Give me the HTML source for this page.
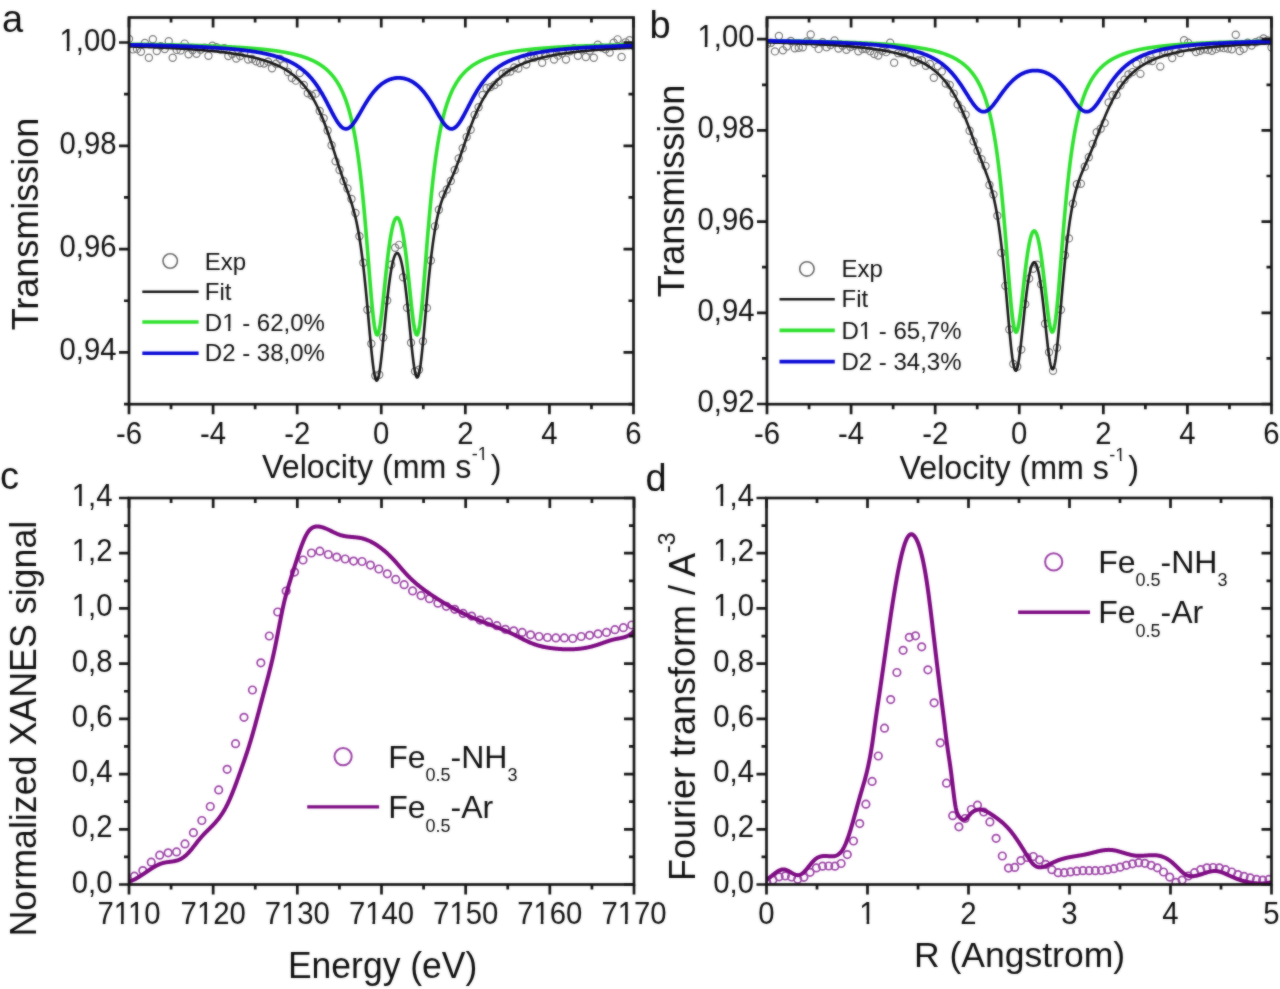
<!DOCTYPE html>
<html><head><meta charset="utf-8"><style>
html,body{margin:0;padding:0;background:#fff;width:1280px;height:989px;overflow:hidden}
svg{display:block}
</style></head><body>
<svg width="1280" height="989" viewBox="0 0 1280 989" font-family="Liberation Sans, sans-serif" fill="#0e0e0e">
<defs><filter id="soft" x="0" y="0" width="1" height="1" filterUnits="objectBoundingBox" color-interpolation-filters="sRGB"><feGaussianBlur in="SourceGraphic" stdDeviation="1" result="b"></feGaussianBlur><feComposite in="SourceGraphic" in2="b" operator="arithmetic" k1="0" k2="0.5" k3="0.5" k4="0"></feComposite></filter></defs>
<g filter="url(#soft)">
<rect width="1280" height="989" fill="#fff"></rect>
<g clip-path="url(#clip1)">
<g fill="none" stroke="#7a7a7a" stroke-width="1.2"><circle cx="129" cy="38.88" r="3.6"></circle><circle cx="132.97" cy="49.4" r="3.6"></circle><circle cx="136.94" cy="49.14" r="3.6"></circle><circle cx="140.92" cy="51.81" r="3.6"></circle><circle cx="144.89" cy="42.94" r="3.6"></circle><circle cx="148.86" cy="57.81" r="3.6"></circle><circle cx="152.83" cy="39.16" r="3.6"></circle><circle cx="156.81" cy="50.97" r="3.6"></circle><circle cx="160.78" cy="46.12" r="3.6"></circle><circle cx="164.75" cy="48.95" r="3.6"></circle><circle cx="168.72" cy="41.19" r="3.6"></circle><circle cx="172.7" cy="57.77" r="3.6"></circle><circle cx="176.67" cy="49.9" r="3.6"></circle><circle cx="180.64" cy="50.42" r="3.6"></circle><circle cx="184.61" cy="43.61" r="3.6"></circle><circle cx="188.59" cy="54.25" r="3.6"></circle><circle cx="192.56" cy="50.21" r="3.6"></circle><circle cx="196.53" cy="53.79" r="3.6"></circle><circle cx="200.5" cy="49.82" r="3.6"></circle><circle cx="204.48" cy="47.64" r="3.6"></circle><circle cx="208.45" cy="55.82" r="3.6"></circle><circle cx="212.42" cy="45.77" r="3.6"></circle><circle cx="216.39" cy="47.31" r="3.6"></circle><circle cx="220.37" cy="49.61" r="3.6"></circle><circle cx="224.34" cy="48.23" r="3.6"></circle><circle cx="228.31" cy="56.12" r="3.6"></circle><circle cx="232.28" cy="54.07" r="3.6"></circle><circle cx="236.26" cy="58.45" r="3.6"></circle><circle cx="240.23" cy="56.01" r="3.6"></circle><circle cx="244.2" cy="53.02" r="3.6"></circle><circle cx="248.17" cy="59.49" r="3.6"></circle><circle cx="252.15" cy="58.98" r="3.6"></circle><circle cx="256.12" cy="61.29" r="3.6"></circle><circle cx="260.09" cy="63.08" r="3.6"></circle><circle cx="264.06" cy="63.45" r="3.6"></circle><circle cx="268.04" cy="61.69" r="3.6"></circle><circle cx="272.01" cy="68.3" r="3.6"></circle><circle cx="275.98" cy="63.66" r="3.6"></circle><circle cx="279.95" cy="58.9" r="3.6"></circle><circle cx="283.93" cy="65.29" r="3.6"></circle><circle cx="287.9" cy="72.05" r="3.6"></circle><circle cx="291.87" cy="78.07" r="3.6"></circle><circle cx="295.84" cy="80.64" r="3.6"></circle><circle cx="299.81" cy="73.03" r="3.6"></circle><circle cx="303.79" cy="85.02" r="3.6"></circle><circle cx="307.76" cy="93.33" r="3.6"></circle><circle cx="311.73" cy="95.48" r="3.6"></circle><circle cx="315.7" cy="93.64" r="3.6"></circle><circle cx="319.68" cy="111.06" r="3.6"></circle><circle cx="323.65" cy="118.25" r="3.6"></circle><circle cx="327.62" cy="130.48" r="3.6"></circle><circle cx="331.59" cy="145.31" r="3.6"></circle><circle cx="335.57" cy="161.37" r="3.6"></circle><circle cx="339.54" cy="170.01" r="3.6"></circle><circle cx="343.51" cy="181.07" r="3.6"></circle><circle cx="347.48" cy="188.51" r="3.6"></circle><circle cx="351.46" cy="198.97" r="3.6"></circle><circle cx="355.43" cy="212.92" r="3.6"></circle><circle cx="359.4" cy="236.19" r="3.6"></circle><circle cx="363.37" cy="262.73" r="3.6"></circle><circle cx="367.35" cy="309.81" r="3.6"></circle><circle cx="371.32" cy="343.73" r="3.6"></circle><circle cx="375.29" cy="375.78" r="3.6"></circle><circle cx="379.26" cy="374.69" r="3.6"></circle><circle cx="383.24" cy="337.55" r="3.6"></circle><circle cx="387.21" cy="300.45" r="3.6"></circle><circle cx="391.18" cy="264.78" r="3.6"></circle><circle cx="395.15" cy="247.75" r="3.6"></circle><circle cx="399.13" cy="244.87" r="3.6"></circle><circle cx="403.1" cy="277.18" r="3.6"></circle><circle cx="407.07" cy="307.72" r="3.6"></circle><circle cx="411.04" cy="342.66" r="3.6"></circle><circle cx="415.02" cy="371.2" r="3.6"></circle><circle cx="418.99" cy="369.73" r="3.6"></circle><circle cx="422.96" cy="341.34" r="3.6"></circle><circle cx="426.93" cy="308.03" r="3.6"></circle><circle cx="430.91" cy="260.56" r="3.6"></circle><circle cx="434.88" cy="226.36" r="3.6"></circle><circle cx="438.85" cy="209.74" r="3.6"></circle><circle cx="442.82" cy="194.41" r="3.6"></circle><circle cx="446.8" cy="189.57" r="3.6"></circle><circle cx="450.77" cy="180.99" r="3.6"></circle><circle cx="454.74" cy="170.02" r="3.6"></circle><circle cx="458.71" cy="158.57" r="3.6"></circle><circle cx="462.69" cy="148.22" r="3.6"></circle><circle cx="466.66" cy="137.08" r="3.6"></circle><circle cx="470.63" cy="129.76" r="3.6"></circle><circle cx="474.6" cy="114.87" r="3.6"></circle><circle cx="478.57" cy="107.22" r="3.6"></circle><circle cx="482.55" cy="94.88" r="3.6"></circle><circle cx="486.52" cy="88" r="3.6"></circle><circle cx="490.49" cy="87.11" r="3.6"></circle><circle cx="494.46" cy="84.94" r="3.6"></circle><circle cx="498.44" cy="82.09" r="3.6"></circle><circle cx="502.41" cy="73.65" r="3.6"></circle><circle cx="506.38" cy="72.23" r="3.6"></circle><circle cx="510.35" cy="71.57" r="3.6"></circle><circle cx="514.33" cy="67.48" r="3.6"></circle><circle cx="518.3" cy="68.57" r="3.6"></circle><circle cx="522.27" cy="60.67" r="3.6"></circle><circle cx="526.24" cy="64.43" r="3.6"></circle><circle cx="530.22" cy="55.27" r="3.6"></circle><circle cx="534.19" cy="57.84" r="3.6"></circle><circle cx="538.16" cy="55.84" r="3.6"></circle><circle cx="542.13" cy="62.68" r="3.6"></circle><circle cx="546.11" cy="55.89" r="3.6"></circle><circle cx="550.08" cy="52.41" r="3.6"></circle><circle cx="554.05" cy="59.53" r="3.6"></circle><circle cx="558.02" cy="55.64" r="3.6"></circle><circle cx="562" cy="53.62" r="3.6"></circle><circle cx="565.97" cy="59.58" r="3.6"></circle><circle cx="569.94" cy="51.19" r="3.6"></circle><circle cx="573.91" cy="48.23" r="3.6"></circle><circle cx="577.89" cy="55.7" r="3.6"></circle><circle cx="581.86" cy="49.65" r="3.6"></circle><circle cx="585.83" cy="56.98" r="3.6"></circle><circle cx="589.8" cy="50.69" r="3.6"></circle><circle cx="593.78" cy="57.68" r="3.6"></circle><circle cx="597.75" cy="44.63" r="3.6"></circle><circle cx="601.72" cy="47.64" r="3.6"></circle><circle cx="605.69" cy="49.37" r="3.6"></circle><circle cx="609.67" cy="52.6" r="3.6"></circle><circle cx="613.64" cy="42.82" r="3.6"></circle><circle cx="617.61" cy="39.36" r="3.6"></circle><circle cx="621.58" cy="56.92" r="3.6"></circle><circle cx="625.56" cy="42.33" r="3.6"></circle><circle cx="629.53" cy="40.31" r="3.6"></circle><circle cx="633.5" cy="46.12" r="3.6"></circle></g>
<path d="M129 46.43 L129.72 46.46 L130.44 46.48 L131.17 46.5 L131.89 46.52 L132.61 46.55 L133.33 46.57 L134.05 46.59 L134.77 46.61 L135.5 46.64 L136.22 46.66 L136.94 46.69 L137.66 46.71 L138.38 46.73 L139.1 46.76 L139.83 46.78 L140.55 46.81 L141.27 46.83 L141.99 46.86 L142.71 46.88 L143.43 46.91 L144.16 46.94 L144.88 46.96 L145.6 46.99 L146.32 47.02 L147.04 47.04 L147.77 47.07 L148.49 47.1 L149.21 47.13 L149.93 47.15 L150.65 47.18 L151.37 47.21 L152.1 47.24 L152.82 47.27 L153.54 47.3 L154.26 47.33 L154.98 47.36 L155.7 47.39 L156.43 47.42 L157.15 47.45 L157.87 47.48 L158.59 47.51 L159.31 47.54 L160.04 47.57 L160.76 47.61 L161.48 47.64 L162.2 47.67 L162.92 47.71 L163.64 47.74 L164.37 47.77 L165.09 47.81 L165.81 47.84 L166.53 47.88 L167.25 47.91 L167.97 47.95 L168.7 47.98 L169.42 48.02 L170.14 48.06 L170.86 48.09 L171.58 48.13 L172.3 48.17 L173.03 48.21 L173.75 48.25 L174.47 48.28 L175.19 48.32 L175.91 48.36 L176.64 48.4 L177.36 48.44 L178.08 48.49 L178.8 48.53 L179.52 48.57 L180.24 48.61 L180.97 48.65 L181.69 48.7 L182.41 48.74 L183.13 48.79 L183.85 48.83 L184.57 48.88 L185.3 48.92 L186.02 48.97 L186.74 49.02 L187.46 49.06 L188.18 49.11 L188.9 49.16 L189.63 49.21 L190.35 49.26 L191.07 49.31 L191.79 49.36 L192.51 49.41 L193.24 49.46 L193.96 49.51 L194.68 49.57 L195.4 49.62 L196.12 49.67 L196.84 49.73 L197.57 49.78 L198.29 49.84 L199.01 49.9 L199.73 49.95 L200.45 50.01 L201.17 50.07 L201.9 50.13 L202.62 50.19 L203.34 50.25 L204.06 50.32 L204.78 50.38 L205.51 50.44 L206.23 50.51 L206.95 50.57 L207.67 50.64 L208.39 50.7 L209.11 50.77 L209.84 50.84 L210.56 50.91 L211.28 50.98 L212 51.05 L212.72 51.12 L213.44 51.19 L214.17 51.27 L214.89 51.34 L215.61 51.42 L216.33 51.5 L217.05 51.57 L217.77 51.65 L218.5 51.73 L219.22 51.81 L219.94 51.9 L220.66 51.98 L221.38 52.06 L222.11 52.15 L222.83 52.24 L223.55 52.32 L224.27 52.41 L224.99 52.5 L225.71 52.6 L226.44 52.69 L227.16 52.78 L227.88 52.88 L228.6 52.98 L229.32 53.08 L230.04 53.18 L230.77 53.28 L231.49 53.38 L232.21 53.48 L232.93 53.59 L233.65 53.7 L234.37 53.81 L235.1 53.92 L235.82 54.03 L236.54 54.15 L237.26 54.26 L237.98 54.38 L238.71 54.5 L239.43 54.62 L240.15 54.75 L240.87 54.87 L241.59 55 L242.31 55.13 L243.04 55.26 L243.76 55.4 L244.48 55.54 L245.2 55.67 L245.92 55.82 L246.64 55.96 L247.37 56.11 L248.09 56.25 L248.81 56.41 L249.53 56.56 L250.25 56.72 L250.97 56.88 L251.7 57.04 L252.42 57.2 L253.14 57.37 L253.86 57.54 L254.58 57.71 L255.31 57.89 L256.03 58.07 L256.75 58.26 L257.47 58.44 L258.19 58.63 L258.91 58.83 L259.64 59.03 L260.36 59.23 L261.08 59.43 L261.8 59.64 L262.52 59.86 L263.24 60.07 L263.97 60.3 L264.69 60.52 L265.41 60.75 L266.13 60.99 L266.85 61.23 L267.58 61.48 L268.3 61.73 L269.02 61.98 L269.74 62.24 L270.46 62.51 L271.18 62.78 L271.91 63.06 L272.63 63.35 L273.35 63.64 L274.07 63.93 L274.79 64.24 L275.51 64.55 L276.24 64.87 L276.96 65.19 L277.68 65.52 L278.4 65.86 L279.12 66.21 L279.84 66.56 L280.57 66.93 L281.29 67.3 L282.01 67.68 L282.73 68.07 L283.45 68.47 L284.18 68.88 L284.9 69.3 L285.62 69.73 L286.34 70.17 L287.06 70.62 L287.78 71.09 L288.51 71.56 L289.23 72.05 L289.95 72.55 L290.67 73.06 L291.39 73.59 L292.11 74.13 L292.84 74.69 L293.56 75.26 L294.28 75.84 L295 76.44 L295.72 77.06 L296.44 77.69 L297.17 78.35 L297.89 79.02 L298.61 79.7 L299.33 80.41 L300.05 81.14 L300.78 81.89 L301.5 82.66 L302.22 83.46 L302.94 84.27 L303.66 85.11 L304.38 85.97 L305.11 86.86 L305.83 87.78 L306.55 88.72 L307.27 89.69 L307.99 90.69 L308.71 91.72 L309.44 92.78 L310.16 93.87 L310.88 94.99 L311.6 96.15 L312.32 97.34 L313.05 98.57 L313.77 99.83 L314.49 101.13 L315.21 102.46 L315.93 103.84 L316.65 105.25 L317.38 106.71 L318.1 108.2 L318.82 109.74 L319.54 111.32 L320.26 112.94 L320.98 114.6 L321.71 116.31 L322.43 118.06 L323.15 119.85 L323.87 121.68 L324.59 123.56 L325.31 125.48 L326.04 127.44 L326.76 129.43 L327.48 131.47 L328.2 133.54 L328.92 135.64 L329.65 137.77 L330.37 139.94 L331.09 142.12 L331.81 144.34 L332.53 146.57 L333.25 148.81 L333.98 151.07 L334.7 153.33 L335.42 155.6 L336.14 157.86 L336.86 160.12 L337.58 162.37 L338.31 164.61 L339.03 166.83 L339.75 169.03 L340.47 171.2 L341.19 173.36 L341.91 175.48 L342.64 177.59 L343.36 179.66 L344.08 181.72 L344.8 183.75 L345.52 185.77 L346.25 187.79 L346.97 189.79 L347.69 191.81 L348.41 193.84 L349.13 195.9 L349.85 198 L350.58 200.15 L351.3 202.37 L352.02 204.67 L352.74 207.08 L353.46 209.61 L354.18 212.27 L354.91 215.1 L355.63 218.1 L356.35 221.3 L357.07 224.72 L357.79 228.38 L358.52 232.31 L359.24 236.51 L359.96 241.02 L360.68 245.84 L361.4 250.99 L362.12 256.49 L362.85 262.34 L363.57 268.54 L364.29 275.1 L365.01 281.99 L365.73 289.21 L366.45 296.7 L367.18 304.44 L367.9 312.36 L368.62 320.38 L369.34 328.42 L370.06 336.35 L370.78 344.07 L371.51 351.42 L372.23 358.25 L372.95 364.43 L373.67 369.79 L374.39 374.2 L375.12 377.53 L375.84 379.69 L376.56 380.63 L377.28 380.32 L378 378.78 L378.72 376.05 L379.45 372.25 L380.17 367.47 L380.89 361.87 L381.61 355.6 L382.33 348.81 L383.05 341.66 L383.78 334.3 L384.5 326.86 L385.22 319.47 L385.94 312.22 L386.66 305.2 L387.38 298.49 L388.11 292.14 L388.83 286.21 L389.55 280.71 L390.27 275.68 L390.99 271.14 L391.72 267.1 L392.44 263.56 L393.16 260.53 L393.88 258.01 L394.6 256 L395.32 254.5 L396.05 253.52 L396.77 253.04 L397.49 253.07 L398.21 253.61 L398.93 254.66 L399.65 256.22 L400.38 258.29 L401.1 260.87 L401.82 263.96 L402.54 267.56 L403.26 271.66 L403.98 276.26 L404.71 281.33 L405.43 286.86 L406.15 292.83 L406.87 299.19 L407.59 305.89 L408.32 312.88 L409.04 320.07 L409.76 327.38 L410.48 334.69 L411.2 341.89 L411.92 348.82 L412.65 355.34 L413.37 361.3 L414.09 366.53 L414.81 370.89 L415.53 374.24 L416.25 376.47 L416.98 377.5 L417.7 377.28 L418.42 375.82 L419.14 373.14 L419.86 369.32 L420.59 364.46 L421.31 358.68 L422.03 352.14 L422.75 344.99 L423.47 337.37 L424.19 329.43 L424.92 321.31 L425.64 313.14 L426.36 305 L427.08 297.01 L427.8 289.21 L428.52 281.68 L429.25 274.46 L429.97 267.56 L430.69 261.03 L431.41 254.85 L432.13 249.05 L432.85 243.6 L433.58 238.52 L434.3 233.78 L435.02 229.37 L435.74 225.27 L436.46 221.48 L437.19 217.96 L437.91 214.71 L438.63 211.69 L439.35 208.9 L440.07 206.31 L440.79 203.9 L441.52 201.66 L442.24 199.56 L442.96 197.59 L443.68 195.72 L444.4 193.95 L445.12 192.26 L445.85 190.62 L446.57 189.03 L447.29 187.48 L448.01 185.94 L448.73 184.41 L449.45 182.88 L450.18 181.34 L450.9 179.77 L451.62 178.18 L452.34 176.56 L453.06 174.9 L453.79 173.2 L454.51 171.46 L455.23 169.67 L455.95 167.84 L456.67 165.97 L457.39 164.06 L458.12 162.11 L458.84 160.13 L459.56 158.11 L460.28 156.07 L461 154.01 L461.72 151.93 L462.45 149.84 L463.17 147.74 L463.89 145.64 L464.61 143.54 L465.33 141.44 L466.06 139.36 L466.78 137.29 L467.5 135.24 L468.22 133.21 L468.94 131.21 L469.66 129.24 L470.39 127.29 L471.11 125.38 L471.83 123.5 L472.55 121.66 L473.27 119.85 L473.99 118.08 L474.72 116.36 L475.44 114.67 L476.16 113.02 L476.88 111.4 L477.6 109.83 L478.32 108.3 L479.05 106.81 L479.77 105.36 L480.49 103.95 L481.21 102.57 L481.93 101.24 L482.66 99.94 L483.38 98.67 L484.1 97.44 L484.82 96.25 L485.54 95.09 L486.26 93.96 L486.99 92.87 L487.71 91.8 L488.43 90.77 L489.15 89.76 L489.87 88.79 L490.59 87.84 L491.32 86.92 L492.04 86.03 L492.76 85.16 L493.48 84.31 L494.2 83.49 L494.92 82.69 L495.65 81.92 L496.37 81.16 L497.09 80.43 L497.81 79.72 L498.53 79.03 L499.26 78.35 L499.98 77.7 L500.7 77.06 L501.42 76.44 L502.14 75.83 L502.86 75.25 L503.59 74.67 L504.31 74.12 L505.03 73.57 L505.75 73.04 L506.47 72.53 L507.19 72.03 L507.92 71.54 L508.64 71.06 L509.36 70.59 L510.08 70.14 L510.8 69.7 L511.53 69.27 L512.25 68.84 L512.97 68.43 L513.69 68.03 L514.41 67.64 L515.13 67.26 L515.86 66.89 L516.58 66.52 L517.3 66.16 L518.02 65.82 L518.74 65.48 L519.46 65.14 L520.19 64.82 L520.91 64.5 L521.63 64.19 L522.35 63.88 L523.07 63.59 L523.79 63.3 L524.52 63.01 L525.24 62.73 L525.96 62.46 L526.68 62.19 L527.4 61.93 L528.13 61.68 L528.85 61.42 L529.57 61.18 L530.29 60.94 L531.01 60.7 L531.73 60.47 L532.46 60.24 L533.18 60.02 L533.9 59.8 L534.62 59.59 L535.34 59.38 L536.06 59.18 L536.79 58.97 L537.51 58.78 L538.23 58.58 L538.95 58.39 L539.67 58.2 L540.39 58.02 L541.12 57.84 L541.84 57.66 L542.56 57.49 L543.28 57.32 L544 57.15 L544.73 56.99 L545.45 56.83 L546.17 56.67 L546.89 56.51 L547.61 56.36 L548.33 56.21 L549.06 56.06 L549.78 55.91 L550.5 55.77 L551.22 55.63 L551.94 55.49 L552.66 55.35 L553.39 55.22 L554.11 55.09 L554.83 54.96 L555.55 54.83 L556.27 54.7 L556.99 54.58 L557.72 54.46 L558.44 54.34 L559.16 54.22 L559.88 54.1 L560.6 53.99 L561.33 53.88 L562.05 53.77 L562.77 53.66 L563.49 53.55 L564.21 53.44 L564.93 53.34 L565.66 53.24 L566.38 53.14 L567.1 53.04 L567.82 52.94 L568.54 52.84 L569.26 52.74 L569.99 52.65 L570.71 52.56 L571.43 52.47 L572.15 52.38 L572.87 52.29 L573.6 52.2 L574.32 52.11 L575.04 52.03 L575.76 51.94 L576.48 51.86 L577.2 51.78 L577.93 51.7 L578.65 51.62 L579.37 51.54 L580.09 51.46 L580.81 51.38 L581.53 51.31 L582.26 51.23 L582.98 51.16 L583.7 51.09 L584.42 51.02 L585.14 50.95 L585.86 50.88 L586.59 50.81 L587.31 50.74 L588.03 50.67 L588.75 50.61 L589.47 50.54 L590.2 50.48 L590.92 50.41 L591.64 50.35 L592.36 50.29 L593.08 50.22 L593.8 50.16 L594.53 50.1 L595.25 50.04 L595.97 49.99 L596.69 49.93 L597.41 49.87 L598.13 49.81 L598.86 49.76 L599.58 49.7 L600.3 49.65 L601.02 49.59 L601.74 49.54 L602.46 49.49 L603.19 49.43 L603.91 49.38 L604.63 49.33 L605.35 49.28 L606.07 49.23 L606.8 49.18 L607.52 49.13 L608.24 49.09 L608.96 49.04 L609.68 48.99 L610.4 48.94 L611.13 48.9 L611.85 48.85 L612.57 48.81 L613.29 48.76 L614.01 48.72 L614.73 48.68 L615.46 48.63 L616.18 48.59 L616.9 48.55 L617.62 48.51 L618.34 48.46 L619.07 48.42 L619.79 48.38 L620.51 48.34 L621.23 48.3 L621.95 48.26 L622.67 48.22 L623.4 48.19 L624.12 48.15 L624.84 48.11 L625.56 48.07 L626.28 48.04 L627 48 L627.73 47.96 L628.45 47.93 L629.17 47.89 L629.89 47.86 L630.61 47.82 L631.33 47.79 L632.06 47.75 L632.78 47.72 L633.5 47.69" fill="none" stroke="#151515" stroke-width="2.6" stroke-linejoin="round" stroke-linecap="round"></path>
<path d="M129 44.17 L129.72 44.18 L130.44 44.19 L131.17 44.2 L131.89 44.21 L132.61 44.21 L133.33 44.22 L134.05 44.23 L134.77 44.24 L135.5 44.25 L136.22 44.26 L136.94 44.27 L137.66 44.28 L138.38 44.29 L139.1 44.3 L139.83 44.31 L140.55 44.32 L141.27 44.33 L141.99 44.34 L142.71 44.35 L143.43 44.36 L144.16 44.38 L144.88 44.39 L145.6 44.4 L146.32 44.41 L147.04 44.42 L147.77 44.43 L148.49 44.44 L149.21 44.45 L149.93 44.46 L150.65 44.48 L151.37 44.49 L152.1 44.5 L152.82 44.51 L153.54 44.52 L154.26 44.54 L154.98 44.55 L155.7 44.56 L156.43 44.57 L157.15 44.58 L157.87 44.6 L158.59 44.61 L159.31 44.62 L160.04 44.64 L160.76 44.65 L161.48 44.66 L162.2 44.68 L162.92 44.69 L163.64 44.7 L164.37 44.72 L165.09 44.73 L165.81 44.74 L166.53 44.76 L167.25 44.77 L167.97 44.79 L168.7 44.8 L169.42 44.82 L170.14 44.83 L170.86 44.85 L171.58 44.86 L172.3 44.88 L173.03 44.89 L173.75 44.91 L174.47 44.92 L175.19 44.94 L175.91 44.96 L176.64 44.97 L177.36 44.99 L178.08 45 L178.8 45.02 L179.52 45.04 L180.24 45.05 L180.97 45.07 L181.69 45.09 L182.41 45.11 L183.13 45.12 L183.85 45.14 L184.57 45.16 L185.3 45.18 L186.02 45.2 L186.74 45.22 L187.46 45.23 L188.18 45.25 L188.9 45.27 L189.63 45.29 L190.35 45.31 L191.07 45.33 L191.79 45.35 L192.51 45.37 L193.24 45.39 L193.96 45.41 L194.68 45.43 L195.4 45.46 L196.12 45.48 L196.84 45.5 L197.57 45.52 L198.29 45.54 L199.01 45.57 L199.73 45.59 L200.45 45.61 L201.17 45.63 L201.9 45.66 L202.62 45.68 L203.34 45.7 L204.06 45.73 L204.78 45.75 L205.51 45.78 L206.23 45.8 L206.95 45.83 L207.67 45.85 L208.39 45.88 L209.11 45.91 L209.84 45.93 L210.56 45.96 L211.28 45.99 L212 46.01 L212.72 46.04 L213.44 46.07 L214.17 46.1 L214.89 46.13 L215.61 46.16 L216.33 46.19 L217.05 46.22 L217.77 46.25 L218.5 46.28 L219.22 46.31 L219.94 46.34 L220.66 46.37 L221.38 46.4 L222.11 46.44 L222.83 46.47 L223.55 46.5 L224.27 46.54 L224.99 46.57 L225.71 46.61 L226.44 46.64 L227.16 46.68 L227.88 46.71 L228.6 46.75 L229.32 46.79 L230.04 46.83 L230.77 46.86 L231.49 46.9 L232.21 46.94 L232.93 46.98 L233.65 47.02 L234.37 47.06 L235.1 47.1 L235.82 47.15 L236.54 47.19 L237.26 47.23 L237.98 47.27 L238.71 47.32 L239.43 47.36 L240.15 47.41 L240.87 47.46 L241.59 47.5 L242.31 47.55 L243.04 47.6 L243.76 47.65 L244.48 47.7 L245.2 47.75 L245.92 47.8 L246.64 47.85 L247.37 47.9 L248.09 47.96 L248.81 48.01 L249.53 48.07 L250.25 48.12 L250.97 48.18 L251.7 48.24 L252.42 48.3 L253.14 48.36 L253.86 48.42 L254.58 48.48 L255.31 48.54 L256.03 48.6 L256.75 48.67 L257.47 48.73 L258.19 48.8 L258.91 48.87 L259.64 48.94 L260.36 49.01 L261.08 49.08 L261.8 49.15 L262.52 49.22 L263.24 49.3 L263.97 49.37 L264.69 49.45 L265.41 49.53 L266.13 49.61 L266.85 49.69 L267.58 49.78 L268.3 49.86 L269.02 49.95 L269.74 50.03 L270.46 50.12 L271.18 50.21 L271.91 50.3 L272.63 50.4 L273.35 50.49 L274.07 50.59 L274.79 50.69 L275.51 50.79 L276.24 50.9 L276.96 51 L277.68 51.11 L278.4 51.22 L279.12 51.33 L279.84 51.44 L280.57 51.56 L281.29 51.68 L282.01 51.8 L282.73 51.92 L283.45 52.05 L284.18 52.18 L284.9 52.31 L285.62 52.44 L286.34 52.58 L287.06 52.72 L287.78 52.86 L288.51 53 L289.23 53.15 L289.95 53.3 L290.67 53.46 L291.39 53.62 L292.11 53.78 L292.84 53.95 L293.56 54.12 L294.28 54.29 L295 54.47 L295.72 54.65 L296.44 54.84 L297.17 55.03 L297.89 55.22 L298.61 55.42 L299.33 55.63 L300.05 55.84 L300.78 56.05 L301.5 56.27 L302.22 56.5 L302.94 56.73 L303.66 56.97 L304.38 57.22 L305.11 57.47 L305.83 57.72 L306.55 57.99 L307.27 58.26 L307.99 58.54 L308.71 58.83 L309.44 59.12 L310.16 59.42 L310.88 59.74 L311.6 60.06 L312.32 60.39 L313.05 60.73 L313.77 61.08 L314.49 61.44 L315.21 61.81 L315.93 62.19 L316.65 62.59 L317.38 62.99 L318.1 63.41 L318.82 63.85 L319.54 64.29 L320.26 64.76 L320.98 65.23 L321.71 65.73 L322.43 66.24 L323.15 66.77 L323.87 67.31 L324.59 67.88 L325.31 68.46 L326.04 69.07 L326.76 69.7 L327.48 70.35 L328.2 71.03 L328.92 71.73 L329.65 72.46 L330.37 73.21 L331.09 74 L331.81 74.82 L332.53 75.67 L333.25 76.56 L333.98 77.48 L334.7 78.44 L335.42 79.44 L336.14 80.49 L336.86 81.58 L337.58 82.72 L338.31 83.91 L339.03 85.16 L339.75 86.46 L340.47 87.82 L341.19 89.25 L341.91 90.75 L342.64 92.32 L343.36 93.96 L344.08 95.69 L344.8 97.51 L345.52 99.42 L346.25 101.43 L346.97 103.55 L347.69 105.77 L348.41 108.12 L349.13 110.6 L349.85 113.21 L350.58 115.98 L351.3 118.89 L352.02 121.97 L352.74 125.23 L353.46 128.68 L354.18 132.33 L354.91 136.2 L355.63 140.29 L356.35 144.62 L357.07 149.21 L357.79 154.07 L358.52 159.22 L359.24 164.66 L359.96 170.42 L360.68 176.5 L361.4 182.91 L362.12 189.66 L362.85 196.76 L363.57 204.21 L364.29 211.99 L365.01 220.09 L365.73 228.49 L366.45 237.16 L367.18 246.04 L367.9 255.08 L368.62 264.2 L369.34 273.3 L370.06 282.28 L370.78 291 L371.51 299.33 L372.23 307.11 L372.95 314.21 L373.67 320.45 L374.39 325.72 L375.12 329.88 L375.84 332.84 L376.56 334.54 L377.28 334.96 L378 334.13 L378.72 332.08 L379.45 328.92 L380.17 324.76 L380.89 319.75 L381.61 314.04 L382.33 307.79 L383.05 301.15 L383.78 294.27 L384.5 287.29 L385.22 280.32 L385.94 273.48 L386.66 266.84 L387.38 260.49 L388.11 254.47 L388.83 248.84 L389.55 243.63 L390.27 238.87 L390.99 234.57 L391.72 230.74 L392.44 227.39 L393.16 224.54 L393.88 222.17 L394.6 220.29 L395.32 218.9 L396.05 218 L396.77 217.59 L397.49 217.67 L398.21 218.23 L398.93 219.28 L399.65 220.83 L400.38 222.86 L401.1 225.38 L401.82 228.39 L402.54 231.89 L403.26 235.86 L403.98 240.31 L404.71 245.22 L405.43 250.56 L406.15 256.32 L406.87 262.45 L407.59 268.89 L408.32 275.6 L409.04 282.5 L409.76 289.48 L410.48 296.45 L411.2 303.27 L411.92 309.8 L412.65 315.9 L413.37 321.41 L414.09 326.17 L414.81 330.02 L415.53 332.85 L416.25 334.52 L416.98 334.97 L417.7 334.14 L418.42 332.04 L419.14 328.7 L419.86 324.18 L420.59 318.59 L421.31 312.06 L422.03 304.74 L422.75 296.76 L423.47 288.3 L424.19 279.48 L424.92 270.46 L425.64 261.34 L426.36 252.24 L427.08 243.24 L427.8 234.42 L428.52 225.83 L429.25 217.51 L429.97 209.51 L430.69 201.83 L431.41 194.5 L432.13 187.51 L432.85 180.86 L433.58 174.55 L434.3 168.58 L435.02 162.92 L435.74 157.57 L436.46 152.52 L437.19 147.75 L437.91 143.24 L438.63 138.98 L439.35 134.96 L440.07 131.17 L440.79 127.58 L441.52 124.19 L442.24 120.99 L442.96 117.96 L443.68 115.09 L444.4 112.38 L445.12 109.81 L445.85 107.37 L446.57 105.06 L447.29 102.87 L448.01 100.79 L448.73 98.81 L449.45 96.93 L450.18 95.14 L450.9 93.44 L451.62 91.82 L452.34 90.27 L453.06 88.79 L453.79 87.39 L454.51 86.04 L455.23 84.76 L455.95 83.53 L456.67 82.36 L457.39 81.23 L458.12 80.16 L458.84 79.12 L459.56 78.13 L460.28 77.19 L461 76.27 L461.72 75.4 L462.45 74.56 L463.17 73.75 L463.89 72.97 L464.61 72.23 L465.33 71.51 L466.06 70.81 L466.78 70.14 L467.5 69.5 L468.22 68.88 L468.94 68.28 L469.66 67.7 L470.39 67.14 L471.11 66.6 L471.83 66.08 L472.55 65.57 L473.27 65.08 L473.99 64.61 L474.72 64.15 L475.44 63.71 L476.16 63.28 L476.88 62.86 L477.6 62.46 L478.32 62.07 L479.05 61.69 L479.77 61.32 L480.49 60.97 L481.21 60.62 L481.93 60.28 L482.66 59.96 L483.38 59.64 L484.1 59.33 L484.82 59.03 L485.54 58.74 L486.26 58.45 L486.99 58.17 L487.71 57.91 L488.43 57.64 L489.15 57.39 L489.87 57.14 L490.59 56.9 L491.32 56.66 L492.04 56.43 L492.76 56.2 L493.48 55.99 L494.2 55.77 L494.92 55.56 L495.65 55.36 L496.37 55.16 L497.09 54.97 L497.81 54.78 L498.53 54.59 L499.26 54.41 L499.98 54.24 L500.7 54.06 L501.42 53.89 L502.14 53.73 L502.86 53.57 L503.59 53.41 L504.31 53.26 L505.03 53.11 L505.75 52.96 L506.47 52.81 L507.19 52.67 L507.92 52.53 L508.64 52.4 L509.36 52.27 L510.08 52.13 L510.8 52.01 L511.53 51.88 L512.25 51.76 L512.97 51.64 L513.69 51.52 L514.41 51.41 L515.13 51.29 L515.86 51.18 L516.58 51.07 L517.3 50.97 L518.02 50.86 L518.74 50.76 L519.46 50.66 L520.19 50.56 L520.91 50.46 L521.63 50.37 L522.35 50.28 L523.07 50.18 L523.79 50.09 L524.52 50.01 L525.24 49.92 L525.96 49.83 L526.68 49.75 L527.4 49.67 L528.13 49.59 L528.85 49.51 L529.57 49.43 L530.29 49.35 L531.01 49.27 L531.73 49.2 L532.46 49.13 L533.18 49.06 L533.9 48.98 L534.62 48.91 L535.34 48.85 L536.06 48.78 L536.79 48.71 L537.51 48.65 L538.23 48.58 L538.95 48.52 L539.67 48.46 L540.39 48.4 L541.12 48.34 L541.84 48.28 L542.56 48.22 L543.28 48.16 L544 48.1 L544.73 48.05 L545.45 47.99 L546.17 47.94 L546.89 47.89 L547.61 47.83 L548.33 47.78 L549.06 47.73 L549.78 47.68 L550.5 47.63 L551.22 47.58 L551.94 47.54 L552.66 47.49 L553.39 47.44 L554.11 47.39 L554.83 47.35 L555.55 47.3 L556.27 47.26 L556.99 47.22 L557.72 47.17 L558.44 47.13 L559.16 47.09 L559.88 47.05 L560.6 47.01 L561.33 46.97 L562.05 46.93 L562.77 46.89 L563.49 46.85 L564.21 46.81 L564.93 46.78 L565.66 46.74 L566.38 46.7 L567.1 46.67 L567.82 46.63 L568.54 46.6 L569.26 46.56 L569.99 46.53 L570.71 46.49 L571.43 46.46 L572.15 46.43 L572.87 46.39 L573.6 46.36 L574.32 46.33 L575.04 46.3 L575.76 46.27 L576.48 46.24 L577.2 46.21 L577.93 46.18 L578.65 46.15 L579.37 46.12 L580.09 46.09 L580.81 46.06 L581.53 46.03 L582.26 46.01 L582.98 45.98 L583.7 45.95 L584.42 45.92 L585.14 45.9 L585.86 45.87 L586.59 45.85 L587.31 45.82 L588.03 45.8 L588.75 45.77 L589.47 45.75 L590.2 45.72 L590.92 45.7 L591.64 45.67 L592.36 45.65 L593.08 45.63 L593.8 45.6 L594.53 45.58 L595.25 45.56 L595.97 45.54 L596.69 45.51 L597.41 45.49 L598.13 45.47 L598.86 45.45 L599.58 45.43 L600.3 45.41 L601.02 45.39 L601.74 45.37 L602.46 45.35 L603.19 45.33 L603.91 45.31 L604.63 45.29 L605.35 45.27 L606.07 45.25 L606.8 45.23 L607.52 45.21 L608.24 45.19 L608.96 45.17 L609.68 45.15 L610.4 45.14 L611.13 45.12 L611.85 45.1 L612.57 45.08 L613.29 45.07 L614.01 45.05 L614.73 45.03 L615.46 45.02 L616.18 45 L616.9 44.98 L617.62 44.97 L618.34 44.95 L619.07 44.93 L619.79 44.92 L620.51 44.9 L621.23 44.89 L621.95 44.87 L622.67 44.86 L623.4 44.84 L624.12 44.83 L624.84 44.81 L625.56 44.8 L626.28 44.78 L627 44.77 L627.73 44.75 L628.45 44.74 L629.17 44.73 L629.89 44.71 L630.61 44.7 L631.33 44.69 L632.06 44.67 L632.78 44.66 L633.5 44.65" fill="none" stroke="#2ce02c" stroke-width="3.6" stroke-linejoin="round" stroke-linecap="round"></path>
<path d="M129 44.77 L129.72 44.78 L130.44 44.79 L131.17 44.8 L131.89 44.82 L132.61 44.83 L133.33 44.84 L134.05 44.86 L134.77 44.87 L135.5 44.89 L136.22 44.9 L136.94 44.91 L137.66 44.93 L138.38 44.94 L139.1 44.96 L139.83 44.97 L140.55 44.99 L141.27 45 L141.99 45.01 L142.71 45.03 L143.43 45.05 L144.16 45.06 L144.88 45.08 L145.6 45.09 L146.32 45.11 L147.04 45.12 L147.77 45.14 L148.49 45.16 L149.21 45.17 L149.93 45.19 L150.65 45.21 L151.37 45.22 L152.1 45.24 L152.82 45.26 L153.54 45.27 L154.26 45.29 L154.98 45.31 L155.7 45.33 L156.43 45.35 L157.15 45.36 L157.87 45.38 L158.59 45.4 L159.31 45.42 L160.04 45.44 L160.76 45.46 L161.48 45.48 L162.2 45.5 L162.92 45.52 L163.64 45.54 L164.37 45.56 L165.09 45.58 L165.81 45.6 L166.53 45.62 L167.25 45.64 L167.97 45.66 L168.7 45.68 L169.42 45.7 L170.14 45.72 L170.86 45.75 L171.58 45.77 L172.3 45.79 L173.03 45.81 L173.75 45.84 L174.47 45.86 L175.19 45.88 L175.91 45.91 L176.64 45.93 L177.36 45.96 L178.08 45.98 L178.8 46.01 L179.52 46.03 L180.24 46.06 L180.97 46.08 L181.69 46.11 L182.41 46.13 L183.13 46.16 L183.85 46.19 L184.57 46.22 L185.3 46.24 L186.02 46.27 L186.74 46.3 L187.46 46.33 L188.18 46.36 L188.9 46.39 L189.63 46.41 L190.35 46.44 L191.07 46.48 L191.79 46.51 L192.51 46.54 L193.24 46.57 L193.96 46.6 L194.68 46.63 L195.4 46.66 L196.12 46.7 L196.84 46.73 L197.57 46.76 L198.29 46.8 L199.01 46.83 L199.73 46.87 L200.45 46.9 L201.17 46.94 L201.9 46.97 L202.62 47.01 L203.34 47.05 L204.06 47.09 L204.78 47.12 L205.51 47.16 L206.23 47.2 L206.95 47.24 L207.67 47.28 L208.39 47.32 L209.11 47.36 L209.84 47.41 L210.56 47.45 L211.28 47.49 L212 47.53 L212.72 47.58 L213.44 47.62 L214.17 47.67 L214.89 47.71 L215.61 47.76 L216.33 47.81 L217.05 47.86 L217.77 47.91 L218.5 47.95 L219.22 48 L219.94 48.06 L220.66 48.11 L221.38 48.16 L222.11 48.21 L222.83 48.27 L223.55 48.32 L224.27 48.38 L224.99 48.43 L225.71 48.49 L226.44 48.55 L227.16 48.61 L227.88 48.67 L228.6 48.73 L229.32 48.79 L230.04 48.85 L230.77 48.91 L231.49 48.98 L232.21 49.04 L232.93 49.11 L233.65 49.18 L234.37 49.25 L235.1 49.32 L235.82 49.39 L236.54 49.46 L237.26 49.53 L237.98 49.61 L238.71 49.68 L239.43 49.76 L240.15 49.84 L240.87 49.92 L241.59 50 L242.31 50.08 L243.04 50.17 L243.76 50.25 L244.48 50.34 L245.2 50.43 L245.92 50.52 L246.64 50.61 L247.37 50.7 L248.09 50.8 L248.81 50.89 L249.53 50.99 L250.25 51.09 L250.97 51.2 L251.7 51.3 L252.42 51.41 L253.14 51.51 L253.86 51.62 L254.58 51.74 L255.31 51.85 L256.03 51.97 L256.75 52.09 L257.47 52.21 L258.19 52.33 L258.91 52.46 L259.64 52.59 L260.36 52.72 L261.08 52.86 L261.8 52.99 L262.52 53.13 L263.24 53.28 L263.97 53.42 L264.69 53.57 L265.41 53.72 L266.13 53.88 L266.85 54.04 L267.58 54.2 L268.3 54.37 L269.02 54.54 L269.74 54.71 L270.46 54.89 L271.18 55.07 L271.91 55.26 L272.63 55.45 L273.35 55.64 L274.07 55.84 L274.79 56.05 L275.51 56.26 L276.24 56.47 L276.96 56.69 L277.68 56.91 L278.4 57.14 L279.12 57.38 L279.84 57.62 L280.57 57.87 L281.29 58.12 L282.01 58.38 L282.73 58.65 L283.45 58.93 L284.18 59.21 L284.9 59.5 L285.62 59.79 L286.34 60.1 L287.06 60.41 L287.78 60.73 L288.51 61.06 L289.23 61.4 L289.95 61.75 L290.67 62.1 L291.39 62.47 L292.11 62.85 L292.84 63.24 L293.56 63.64 L294.28 64.05 L295 64.47 L295.72 64.91 L296.44 65.36 L297.17 65.82 L297.89 66.29 L298.61 66.78 L299.33 67.28 L300.05 67.8 L300.78 68.34 L301.5 68.89 L302.22 69.45 L302.94 70.04 L303.66 70.64 L304.38 71.26 L305.11 71.9 L305.83 72.56 L306.55 73.23 L307.27 73.93 L307.99 74.65 L308.71 75.39 L309.44 76.16 L310.16 76.95 L310.88 77.76 L311.6 78.59 L312.32 79.45 L313.05 80.34 L313.77 81.25 L314.49 82.19 L315.21 83.15 L315.93 84.15 L316.65 85.17 L317.38 86.21 L318.1 87.29 L318.82 88.39 L319.54 89.52 L320.26 90.68 L320.98 91.87 L321.71 93.08 L322.43 94.32 L323.15 95.58 L323.87 96.87 L324.59 98.18 L325.31 99.52 L326.04 100.87 L326.76 102.23 L327.48 103.62 L328.2 105.01 L328.92 106.41 L329.65 107.82 L330.37 109.22 L331.09 110.62 L331.81 112.02 L332.53 113.39 L333.25 114.75 L333.98 116.09 L334.7 117.39 L335.42 118.65 L336.14 119.87 L336.86 121.04 L337.58 122.15 L338.31 123.2 L339.03 124.17 L339.75 125.07 L340.47 125.88 L341.19 126.61 L341.91 127.24 L342.64 127.77 L343.36 128.2 L344.08 128.53 L344.8 128.74 L345.52 128.85 L346.25 128.86 L346.97 128.75 L347.69 128.54 L348.41 128.22 L349.13 127.8 L349.85 127.28 L350.58 126.67 L351.3 125.98 L352.02 125.2 L352.74 124.35 L353.46 123.42 L354.18 122.44 L354.91 121.4 L355.63 120.31 L356.35 119.17 L357.07 118.01 L357.79 116.81 L358.52 115.59 L359.24 114.35 L359.96 113.1 L360.68 111.84 L361.4 110.58 L362.12 109.33 L362.85 108.08 L363.57 106.84 L364.29 105.61 L365.01 104.4 L365.73 103.21 L366.45 102.04 L367.18 100.9 L367.9 99.78 L368.62 98.68 L369.34 97.62 L370.06 96.58 L370.78 95.57 L371.51 94.59 L372.23 93.64 L372.95 92.72 L373.67 91.83 L374.39 90.98 L375.12 90.15 L375.84 89.36 L376.56 88.59 L377.28 87.86 L378 87.15 L378.72 86.47 L379.45 85.83 L380.17 85.21 L380.89 84.62 L381.61 84.06 L382.33 83.52 L383.05 83.01 L383.78 82.53 L384.5 82.08 L385.22 81.65 L385.94 81.24 L386.66 80.86 L387.38 80.5 L388.11 80.17 L388.83 79.86 L389.55 79.58 L390.27 79.32 L390.99 79.08 L391.72 78.86 L392.44 78.66 L393.16 78.49 L393.88 78.34 L394.6 78.21 L395.32 78.1 L396.05 78.01 L396.77 77.95 L397.49 77.9 L398.21 77.88 L398.93 77.88 L399.65 77.89 L400.38 77.93 L401.1 77.99 L401.82 78.07 L402.54 78.18 L403.26 78.3 L403.98 78.44 L404.71 78.61 L405.43 78.8 L406.15 79.01 L406.87 79.24 L407.59 79.5 L408.32 79.77 L409.04 80.08 L409.76 80.4 L410.48 80.75 L411.2 81.12 L411.92 81.52 L412.65 81.94 L413.37 82.39 L414.09 82.86 L414.81 83.36 L415.53 83.89 L416.25 84.44 L416.98 85.03 L417.7 85.64 L418.42 86.27 L419.14 86.94 L419.86 87.64 L420.59 88.36 L421.31 89.12 L422.03 89.91 L422.75 90.72 L423.47 91.57 L424.19 92.45 L424.92 93.36 L425.64 94.3 L426.36 95.27 L427.08 96.27 L427.8 97.3 L428.52 98.36 L429.25 99.44 L429.97 100.55 L430.69 101.69 L431.41 102.86 L432.13 104.04 L432.85 105.24 L433.58 106.46 L434.3 107.7 L435.02 108.95 L435.74 110.2 L436.46 111.46 L437.19 112.72 L437.91 113.97 L438.63 115.21 L439.35 116.44 L440.07 117.64 L440.79 118.82 L441.52 119.97 L442.24 121.07 L442.96 122.13 L443.68 123.13 L444.4 124.07 L445.12 124.95 L445.85 125.75 L446.57 126.47 L447.29 127.11 L448.01 127.65 L448.73 128.1 L449.45 128.45 L450.18 128.7 L450.9 128.83 L451.62 128.87 L452.34 128.79 L453.06 128.6 L453.79 128.31 L454.51 127.91 L455.23 127.41 L455.95 126.81 L456.67 126.11 L457.39 125.33 L458.12 124.45 L458.84 123.5 L459.56 122.48 L460.28 121.39 L461 120.23 L461.72 119.03 L462.45 117.78 L463.17 116.49 L463.89 115.16 L464.61 113.81 L465.33 112.44 L466.06 111.05 L466.78 109.65 L467.5 108.24 L468.22 106.84 L468.94 105.44 L469.66 104.04 L470.39 102.65 L471.11 101.28 L471.83 99.92 L472.55 98.59 L473.27 97.27 L473.99 95.97 L474.72 94.7 L475.44 93.46 L476.16 92.23 L476.88 91.04 L477.6 89.87 L478.32 88.73 L479.05 87.62 L479.77 86.54 L480.49 85.48 L481.21 84.45 L481.93 83.45 L482.66 82.48 L483.38 81.53 L484.1 80.61 L484.82 79.72 L485.54 78.85 L486.26 78.01 L486.99 77.19 L487.71 76.4 L488.43 75.62 L489.15 74.88 L489.87 74.15 L490.59 73.44 L491.32 72.76 L492.04 72.1 L492.76 71.45 L493.48 70.83 L494.2 70.22 L494.92 69.63 L495.65 69.06 L496.37 68.5 L497.09 67.96 L497.81 67.44 L498.53 66.93 L499.26 66.44 L499.98 65.96 L500.7 65.5 L501.42 65.04 L502.14 64.6 L502.86 64.18 L503.59 63.76 L504.31 63.36 L505.03 62.97 L505.75 62.59 L506.47 62.21 L507.19 61.85 L507.92 61.5 L508.64 61.16 L509.36 60.83 L510.08 60.51 L510.8 60.19 L511.53 59.88 L512.25 59.58 L512.97 59.29 L513.69 59.01 L514.41 58.73 L515.13 58.46 L515.86 58.2 L516.58 57.95 L517.3 57.7 L518.02 57.45 L518.74 57.21 L519.46 56.98 L520.19 56.76 L520.91 56.54 L521.63 56.32 L522.35 56.11 L523.07 55.9 L523.79 55.7 L524.52 55.51 L525.24 55.31 L525.96 55.13 L526.68 54.94 L527.4 54.77 L528.13 54.59 L528.85 54.42 L529.57 54.25 L530.29 54.09 L531.01 53.93 L531.73 53.77 L532.46 53.62 L533.18 53.47 L533.9 53.32 L534.62 53.18 L535.34 53.03 L536.06 52.9 L536.79 52.76 L537.51 52.63 L538.23 52.5 L538.95 52.37 L539.67 52.25 L540.39 52.12 L541.12 52 L541.84 51.89 L542.56 51.77 L543.28 51.66 L544 51.55 L544.73 51.44 L545.45 51.33 L546.17 51.23 L546.89 51.12 L547.61 51.02 L548.33 50.92 L549.06 50.83 L549.78 50.73 L550.5 50.64 L551.22 50.55 L551.94 50.45 L552.66 50.37 L553.39 50.28 L554.11 50.19 L554.83 50.11 L555.55 50.02 L556.27 49.94 L556.99 49.86 L557.72 49.78 L558.44 49.71 L559.16 49.63 L559.88 49.56 L560.6 49.48 L561.33 49.41 L562.05 49.34 L562.77 49.27 L563.49 49.2 L564.21 49.13 L564.93 49.06 L565.66 49 L566.38 48.93 L567.1 48.87 L567.82 48.81 L568.54 48.74 L569.26 48.68 L569.99 48.62 L570.71 48.56 L571.43 48.51 L572.15 48.45 L572.87 48.39 L573.6 48.34 L574.32 48.28 L575.04 48.23 L575.76 48.18 L576.48 48.12 L577.2 48.07 L577.93 48.02 L578.65 47.97 L579.37 47.92 L580.09 47.87 L580.81 47.82 L581.53 47.78 L582.26 47.73 L582.98 47.68 L583.7 47.64 L584.42 47.59 L585.14 47.55 L585.86 47.5 L586.59 47.46 L587.31 47.42 L588.03 47.38 L588.75 47.34 L589.47 47.29 L590.2 47.25 L590.92 47.21 L591.64 47.17 L592.36 47.14 L593.08 47.1 L593.8 47.06 L594.53 47.02 L595.25 46.99 L595.97 46.95 L596.69 46.91 L597.41 46.88 L598.13 46.84 L598.86 46.81 L599.58 46.77 L600.3 46.74 L601.02 46.71 L601.74 46.67 L602.46 46.64 L603.19 46.61 L603.91 46.58 L604.63 46.55 L605.35 46.51 L606.07 46.48 L606.8 46.45 L607.52 46.42 L608.24 46.39 L608.96 46.37 L609.68 46.34 L610.4 46.31 L611.13 46.28 L611.85 46.25 L612.57 46.22 L613.29 46.2 L614.01 46.17 L614.73 46.14 L615.46 46.12 L616.18 46.09 L616.9 46.06 L617.62 46.04 L618.34 46.01 L619.07 45.99 L619.79 45.96 L620.51 45.94 L621.23 45.92 L621.95 45.89 L622.67 45.87 L623.4 45.84 L624.12 45.82 L624.84 45.8 L625.56 45.78 L626.28 45.75 L627 45.73 L627.73 45.71 L628.45 45.69 L629.17 45.67 L629.89 45.65 L630.61 45.62 L631.33 45.6 L632.06 45.58 L632.78 45.56 L633.5 45.54" fill="none" stroke="#0909d6" stroke-width="3.8" stroke-linejoin="round" stroke-linecap="round"></path>
</g>
<clipPath id="clip1"><rect x="129" y="17.5" width="504.5" height="386.7"></rect></clipPath>
<rect x="129" y="17.5" width="504.5" height="386.7" fill="none" stroke="#141414" stroke-width="2.7"></rect>
<path d="M129 404.2v10M129 17.5v10M213.08 404.2v10M213.08 17.5v10M297.17 404.2v10M297.17 17.5v10M381.25 404.2v10M381.25 17.5v10M465.33 404.2v10M465.33 17.5v10M549.42 404.2v10M549.42 17.5v10M633.5 404.2v10M633.5 17.5v10M171.04 404.2v5M171.04 17.5v5M255.12 404.2v5M255.12 17.5v5M339.21 404.2v5M339.21 17.5v5M423.29 404.2v5M423.29 17.5v5M507.38 404.2v5M507.38 17.5v5M591.46 404.2v5M591.46 17.5v5M129 42.5h-10M633.5 42.5h-10M129 145.8h-10M633.5 145.8h-10M129 249.1h-10M633.5 249.1h-10M129 352.4h-10M633.5 352.4h-10M129 94.15h-5M633.5 94.15h-5M129 197.45h-5M633.5 197.45h-5M129 300.75h-5M633.5 300.75h-5M129 404.05h-5M633.5 404.05h-5" stroke="#141414" stroke-width="2.7" fill="none"></path>
<g transform="translate(129 443.7) scale(1 1.04)"><text font-size="29.3" text-anchor="middle">-6</text></g>
<g transform="translate(213.08 443.7) scale(1 1.04)"><text font-size="29.3" text-anchor="middle">-4</text></g>
<g transform="translate(297.17 443.7) scale(1 1.04)"><text font-size="29.3" text-anchor="middle">-2</text></g>
<g transform="translate(381.25 443.7) scale(1 1.04)"><text font-size="29.3" text-anchor="middle">0</text></g>
<g transform="translate(465.33 443.7) scale(1 1.04)"><text font-size="29.3" text-anchor="middle">2</text></g>
<g transform="translate(549.42 443.7) scale(1 1.04)"><text font-size="29.3" text-anchor="middle">4</text></g>
<g transform="translate(633.5 443.7) scale(1 1.04)"><text font-size="29.3" text-anchor="middle">6</text></g>
<g transform="translate(116.5 50.5) scale(1 1.04)"><text font-size="29.3" text-anchor="end">1,00</text><rect x="-56.16" width="6.39" y="-3.25" height="4.25" fill="#fff"></rect><rect x="-47.12" width="5.95" y="-3.25" height="4.25" fill="#fff"></rect></g>
<g transform="translate(116.5 153.8) scale(1 1.04)"><text font-size="29.3" text-anchor="end">0,98</text></g>
<g transform="translate(116.5 257.1) scale(1 1.04)"><text font-size="29.3" text-anchor="end">0,96</text></g>
<g transform="translate(116.5 360.4) scale(1 1.04)"><text font-size="29.3" text-anchor="end">0,94</text></g>
<g fill="none" stroke="#6a6a6a" stroke-width="1.6"><circle cx="170.2" cy="261" r="7.2"></circle></g>
<path d="M142.3 291.7H198.6" stroke="#151515" stroke-width="2.4"></path>
<path d="M142.3 322H198.6" stroke="#2ce02c" stroke-width="3.6"></path>
<path d="M142.3 353.2H198.6" stroke="#0909d6" stroke-width="3.6"></path>
<g clip-path="url(#clip2)">
<g fill="none" stroke="#7a7a7a" stroke-width="1.2"><circle cx="767" cy="44.13" r="3.6"></circle><circle cx="770.97" cy="42.75" r="3.6"></circle><circle cx="774.94" cy="51.39" r="3.6"></circle><circle cx="778.92" cy="36.01" r="3.6"></circle><circle cx="782.89" cy="50.22" r="3.6"></circle><circle cx="786.86" cy="46.44" r="3.6"></circle><circle cx="790.83" cy="41.06" r="3.6"></circle><circle cx="794.81" cy="48.37" r="3.6"></circle><circle cx="798.78" cy="47.75" r="3.6"></circle><circle cx="802.75" cy="47.3" r="3.6"></circle><circle cx="806.72" cy="41.47" r="3.6"></circle><circle cx="810.7" cy="34.5" r="3.6"></circle><circle cx="814.67" cy="43.92" r="3.6"></circle><circle cx="818.64" cy="48.88" r="3.6"></circle><circle cx="822.61" cy="42.29" r="3.6"></circle><circle cx="826.59" cy="47.17" r="3.6"></circle><circle cx="830.56" cy="45.04" r="3.6"></circle><circle cx="834.53" cy="40.39" r="3.6"></circle><circle cx="838.5" cy="48.55" r="3.6"></circle><circle cx="842.48" cy="45.74" r="3.6"></circle><circle cx="846.45" cy="49.69" r="3.6"></circle><circle cx="850.42" cy="47.07" r="3.6"></circle><circle cx="854.39" cy="45.73" r="3.6"></circle><circle cx="858.37" cy="51.23" r="3.6"></circle><circle cx="862.34" cy="48.99" r="3.6"></circle><circle cx="866.31" cy="49.02" r="3.6"></circle><circle cx="870.28" cy="51.17" r="3.6"></circle><circle cx="874.26" cy="53.96" r="3.6"></circle><circle cx="878.23" cy="55.51" r="3.6"></circle><circle cx="882.2" cy="50.95" r="3.6"></circle><circle cx="886.17" cy="52.14" r="3.6"></circle><circle cx="890.15" cy="42.66" r="3.6"></circle><circle cx="894.12" cy="62.67" r="3.6"></circle><circle cx="898.09" cy="53.17" r="3.6"></circle><circle cx="902.06" cy="53.18" r="3.6"></circle><circle cx="906.04" cy="50.31" r="3.6"></circle><circle cx="910.01" cy="55.16" r="3.6"></circle><circle cx="913.98" cy="62.19" r="3.6"></circle><circle cx="917.95" cy="60.43" r="3.6"></circle><circle cx="921.93" cy="60.14" r="3.6"></circle><circle cx="925.9" cy="65.87" r="3.6"></circle><circle cx="929.87" cy="63.96" r="3.6"></circle><circle cx="933.84" cy="77.73" r="3.6"></circle><circle cx="937.81" cy="66.37" r="3.6"></circle><circle cx="941.79" cy="71.41" r="3.6"></circle><circle cx="945.76" cy="83.44" r="3.6"></circle><circle cx="949.73" cy="84.96" r="3.6"></circle><circle cx="953.7" cy="93.59" r="3.6"></circle><circle cx="957.68" cy="104.5" r="3.6"></circle><circle cx="961.65" cy="109.12" r="3.6"></circle><circle cx="965.62" cy="114.77" r="3.6"></circle><circle cx="969.59" cy="130.68" r="3.6"></circle><circle cx="973.57" cy="141.36" r="3.6"></circle><circle cx="977.54" cy="150.83" r="3.6"></circle><circle cx="981.51" cy="159.14" r="3.6"></circle><circle cx="985.48" cy="165.96" r="3.6"></circle><circle cx="989.46" cy="185.05" r="3.6"></circle><circle cx="993.43" cy="194.55" r="3.6"></circle><circle cx="997.4" cy="215.67" r="3.6"></circle><circle cx="1001.37" cy="252.83" r="3.6"></circle><circle cx="1005.35" cy="285.87" r="3.6"></circle><circle cx="1009.32" cy="329.56" r="3.6"></circle><circle cx="1013.29" cy="363.98" r="3.6"></circle><circle cx="1017.26" cy="366.71" r="3.6"></circle><circle cx="1021.24" cy="349.58" r="3.6"></circle><circle cx="1025.21" cy="304.16" r="3.6"></circle><circle cx="1029.18" cy="278.62" r="3.6"></circle><circle cx="1033.15" cy="268.75" r="3.6"></circle><circle cx="1037.13" cy="264.65" r="3.6"></circle><circle cx="1041.1" cy="284.35" r="3.6"></circle><circle cx="1045.07" cy="323.79" r="3.6"></circle><circle cx="1049.04" cy="352.32" r="3.6"></circle><circle cx="1053.02" cy="370.68" r="3.6"></circle><circle cx="1056.99" cy="347.67" r="3.6"></circle><circle cx="1060.96" cy="309.7" r="3.6"></circle><circle cx="1064.93" cy="255.17" r="3.6"></circle><circle cx="1068.91" cy="238.39" r="3.6"></circle><circle cx="1072.88" cy="203.81" r="3.6"></circle><circle cx="1076.85" cy="184.2" r="3.6"></circle><circle cx="1080.82" cy="183.73" r="3.6"></circle><circle cx="1084.8" cy="166.7" r="3.6"></circle><circle cx="1088.77" cy="157.2" r="3.6"></circle><circle cx="1092.74" cy="144" r="3.6"></circle><circle cx="1096.71" cy="132.21" r="3.6"></circle><circle cx="1100.69" cy="128.78" r="3.6"></circle><circle cx="1104.66" cy="122.94" r="3.6"></circle><circle cx="1108.63" cy="102.52" r="3.6"></circle><circle cx="1112.6" cy="94.98" r="3.6"></circle><circle cx="1116.57" cy="94.73" r="3.6"></circle><circle cx="1120.55" cy="85.23" r="3.6"></circle><circle cx="1124.52" cy="79.8" r="3.6"></circle><circle cx="1128.49" cy="74.51" r="3.6"></circle><circle cx="1132.46" cy="72.11" r="3.6"></circle><circle cx="1136.44" cy="63.83" r="3.6"></circle><circle cx="1140.41" cy="73.86" r="3.6"></circle><circle cx="1144.38" cy="59.95" r="3.6"></circle><circle cx="1148.35" cy="60.49" r="3.6"></circle><circle cx="1152.33" cy="61.04" r="3.6"></circle><circle cx="1156.3" cy="53.66" r="3.6"></circle><circle cx="1160.27" cy="66.61" r="3.6"></circle><circle cx="1164.24" cy="50.91" r="3.6"></circle><circle cx="1168.22" cy="52.92" r="3.6"></circle><circle cx="1172.19" cy="58.11" r="3.6"></circle><circle cx="1176.16" cy="50.74" r="3.6"></circle><circle cx="1180.13" cy="52.92" r="3.6"></circle><circle cx="1184.11" cy="40.29" r="3.6"></circle><circle cx="1188.08" cy="42.67" r="3.6"></circle><circle cx="1192.05" cy="47.76" r="3.6"></circle><circle cx="1196.02" cy="51.94" r="3.6"></circle><circle cx="1200" cy="50.85" r="3.6"></circle><circle cx="1203.97" cy="49.3" r="3.6"></circle><circle cx="1207.94" cy="49.81" r="3.6"></circle><circle cx="1211.91" cy="50.8" r="3.6"></circle><circle cx="1215.89" cy="49.14" r="3.6"></circle><circle cx="1219.86" cy="47.49" r="3.6"></circle><circle cx="1223.83" cy="48.15" r="3.6"></circle><circle cx="1227.8" cy="48.58" r="3.6"></circle><circle cx="1231.78" cy="49.24" r="3.6"></circle><circle cx="1235.75" cy="34.69" r="3.6"></circle><circle cx="1239.72" cy="50.96" r="3.6"></circle><circle cx="1243.69" cy="48.87" r="3.6"></circle><circle cx="1247.67" cy="42.68" r="3.6"></circle><circle cx="1251.64" cy="45.57" r="3.6"></circle><circle cx="1255.61" cy="42.31" r="3.6"></circle><circle cx="1259.58" cy="40.59" r="3.6"></circle><circle cx="1263.56" cy="38.51" r="3.6"></circle><circle cx="1267.53" cy="40.45" r="3.6"></circle><circle cx="1271.5" cy="47.46" r="3.6"></circle></g>
<path d="M767 42.42 L767.72 42.43 L768.44 42.45 L769.17 42.47 L769.89 42.49 L770.61 42.51 L771.33 42.53 L772.05 42.55 L772.77 42.57 L773.5 42.59 L774.22 42.61 L774.94 42.63 L775.66 42.65 L776.38 42.67 L777.1 42.69 L777.83 42.71 L778.55 42.73 L779.27 42.75 L779.99 42.77 L780.71 42.8 L781.43 42.82 L782.16 42.84 L782.88 42.86 L783.6 42.88 L784.32 42.91 L785.04 42.93 L785.77 42.95 L786.49 42.98 L787.21 43 L787.93 43.02 L788.65 43.05 L789.37 43.07 L790.1 43.1 L790.82 43.12 L791.54 43.14 L792.26 43.17 L792.98 43.2 L793.7 43.22 L794.43 43.25 L795.15 43.27 L795.87 43.3 L796.59 43.33 L797.31 43.35 L798.04 43.38 L798.76 43.41 L799.48 43.44 L800.2 43.46 L800.92 43.49 L801.64 43.52 L802.37 43.55 L803.09 43.58 L803.81 43.61 L804.53 43.64 L805.25 43.67 L805.97 43.7 L806.7 43.73 L807.42 43.76 L808.14 43.79 L808.86 43.82 L809.58 43.86 L810.3 43.89 L811.03 43.92 L811.75 43.95 L812.47 43.99 L813.19 44.02 L813.91 44.06 L814.64 44.09 L815.36 44.12 L816.08 44.16 L816.8 44.2 L817.52 44.23 L818.24 44.27 L818.97 44.31 L819.69 44.34 L820.41 44.38 L821.13 44.42 L821.85 44.46 L822.57 44.5 L823.3 44.54 L824.02 44.58 L824.74 44.62 L825.46 44.66 L826.18 44.7 L826.9 44.74 L827.63 44.78 L828.35 44.83 L829.07 44.87 L829.79 44.91 L830.51 44.96 L831.24 45 L831.96 45.05 L832.68 45.09 L833.4 45.14 L834.12 45.19 L834.84 45.23 L835.57 45.28 L836.29 45.33 L837.01 45.38 L837.73 45.43 L838.45 45.48 L839.17 45.53 L839.9 45.58 L840.62 45.64 L841.34 45.69 L842.06 45.74 L842.78 45.8 L843.51 45.85 L844.23 45.91 L844.95 45.97 L845.67 46.03 L846.39 46.08 L847.11 46.14 L847.84 46.2 L848.56 46.26 L849.28 46.32 L850 46.39 L850.72 46.45 L851.44 46.51 L852.17 46.58 L852.89 46.65 L853.61 46.71 L854.33 46.78 L855.05 46.85 L855.77 46.92 L856.5 46.99 L857.22 47.06 L857.94 47.13 L858.66 47.21 L859.38 47.28 L860.11 47.36 L860.83 47.43 L861.55 47.51 L862.27 47.59 L862.99 47.67 L863.71 47.75 L864.44 47.83 L865.16 47.92 L865.88 48 L866.6 48.09 L867.32 48.18 L868.04 48.26 L868.77 48.35 L869.49 48.45 L870.21 48.54 L870.93 48.63 L871.65 48.73 L872.37 48.83 L873.1 48.93 L873.82 49.03 L874.54 49.13 L875.26 49.23 L875.98 49.34 L876.71 49.45 L877.43 49.56 L878.15 49.67 L878.87 49.78 L879.59 49.89 L880.31 50.01 L881.04 50.13 L881.76 50.25 L882.48 50.37 L883.2 50.5 L883.92 50.62 L884.64 50.75 L885.37 50.88 L886.09 51.02 L886.81 51.15 L887.53 51.29 L888.25 51.43 L888.97 51.58 L889.7 51.72 L890.42 51.87 L891.14 52.02 L891.86 52.18 L892.58 52.33 L893.31 52.49 L894.03 52.66 L894.75 52.82 L895.47 52.99 L896.19 53.16 L896.91 53.34 L897.64 53.52 L898.36 53.7 L899.08 53.89 L899.8 54.08 L900.52 54.27 L901.24 54.47 L901.97 54.67 L902.69 54.88 L903.41 55.09 L904.13 55.3 L904.85 55.52 L905.58 55.74 L906.3 55.97 L907.02 56.21 L907.74 56.44 L908.46 56.69 L909.18 56.93 L909.91 57.19 L910.63 57.45 L911.35 57.71 L912.07 57.98 L912.79 58.26 L913.51 58.54 L914.24 58.83 L914.96 59.13 L915.68 59.43 L916.4 59.74 L917.12 60.06 L917.84 60.38 L918.57 60.72 L919.29 61.06 L920.01 61.4 L920.73 61.76 L921.45 62.13 L922.18 62.5 L922.9 62.88 L923.62 63.28 L924.34 63.68 L925.06 64.09 L925.78 64.52 L926.51 64.95 L927.23 65.4 L927.95 65.85 L928.67 66.32 L929.39 66.8 L930.11 67.3 L930.84 67.8 L931.56 68.32 L932.28 68.86 L933 69.41 L933.72 69.97 L934.44 70.55 L935.17 71.15 L935.89 71.76 L936.61 72.38 L937.33 73.03 L938.05 73.69 L938.78 74.38 L939.5 75.08 L940.22 75.8 L940.94 76.54 L941.66 77.3 L942.38 78.09 L943.11 78.89 L943.83 79.72 L944.55 80.58 L945.27 81.46 L945.99 82.36 L946.71 83.29 L947.44 84.24 L948.16 85.23 L948.88 86.24 L949.6 87.28 L950.32 88.35 L951.05 89.45 L951.77 90.58 L952.49 91.75 L953.21 92.94 L953.93 94.17 L954.65 95.44 L955.38 96.73 L956.1 98.06 L956.82 99.43 L957.54 100.83 L958.26 102.26 L958.98 103.74 L959.71 105.24 L960.43 106.79 L961.15 108.36 L961.87 109.97 L962.59 111.62 L963.31 113.3 L964.04 115.01 L964.76 116.75 L965.48 118.53 L966.2 120.33 L966.92 122.16 L967.65 124.01 L968.37 125.88 L969.09 127.78 L969.81 129.69 L970.53 131.62 L971.25 133.55 L971.98 135.5 L972.7 137.46 L973.42 139.42 L974.14 141.37 L974.86 143.33 L975.58 145.28 L976.31 147.22 L977.03 149.16 L977.75 151.08 L978.47 152.99 L979.19 154.89 L979.91 156.78 L980.64 158.65 L981.36 160.52 L982.08 162.38 L982.8 164.24 L983.52 166.1 L984.25 167.97 L984.97 169.85 L985.69 171.75 L986.41 173.69 L987.13 175.66 L987.85 177.69 L988.58 179.79 L989.3 181.96 L990.02 184.22 L990.74 186.59 L991.46 189.09 L992.18 191.72 L992.91 194.51 L993.63 197.48 L994.35 200.63 L995.07 204 L995.79 207.6 L996.52 211.45 L997.24 215.57 L997.96 219.98 L998.68 224.69 L999.4 229.72 L1000.12 235.09 L1000.85 240.8 L1001.57 246.86 L1002.29 253.28 L1003.01 260.05 L1003.73 267.15 L1004.45 274.58 L1005.18 282.29 L1005.9 290.25 L1006.62 298.38 L1007.34 306.64 L1008.06 314.91 L1008.78 323.09 L1009.51 331.06 L1010.23 338.69 L1010.95 345.83 L1011.67 352.33 L1012.39 358.03 L1013.12 362.81 L1013.84 366.54 L1014.56 369.12 L1015.28 370.51 L1016 370.66 L1016.72 369.6 L1017.45 367.38 L1018.17 364.09 L1018.89 359.85 L1019.61 354.79 L1020.33 349.06 L1021.05 342.83 L1021.78 336.25 L1022.5 329.47 L1023.22 322.62 L1023.94 315.83 L1024.66 309.2 L1025.38 302.82 L1026.11 296.77 L1026.83 291.1 L1027.55 285.87 L1028.27 281.11 L1028.99 276.86 L1029.72 273.12 L1030.44 269.92 L1031.16 267.27 L1031.88 265.17 L1032.6 263.64 L1033.32 262.66 L1034.05 262.24 L1034.77 262.39 L1035.49 263.11 L1036.21 264.38 L1036.93 266.21 L1037.65 268.6 L1038.38 271.54 L1039.1 275.02 L1039.82 279.03 L1040.54 283.55 L1041.26 288.55 L1041.98 294 L1042.71 299.86 L1043.43 306.06 L1044.15 312.55 L1044.87 319.24 L1045.59 326.02 L1046.32 332.79 L1047.04 339.41 L1047.76 345.73 L1048.48 351.6 L1049.2 356.88 L1049.92 361.39 L1050.65 364.99 L1051.37 367.57 L1052.09 369.02 L1052.81 369.26 L1053.53 368.28 L1054.25 366.08 L1054.98 362.72 L1055.7 358.26 L1056.42 352.82 L1057.14 346.55 L1057.86 339.57 L1058.59 332.04 L1059.31 324.12 L1060.03 315.94 L1060.75 307.62 L1061.47 299.29 L1062.19 291.04 L1062.92 282.95 L1063.64 275.08 L1064.36 267.49 L1065.08 260.21 L1065.8 253.27 L1066.52 246.68 L1067.25 240.44 L1067.97 234.57 L1068.69 229.05 L1069.41 223.88 L1070.13 219.05 L1070.85 214.53 L1071.58 210.32 L1072.3 206.39 L1073.02 202.73 L1073.74 199.32 L1074.46 196.14 L1075.19 193.18 L1075.91 190.41 L1076.63 187.82 L1077.35 185.38 L1078.07 183.09 L1078.79 180.93 L1079.52 178.88 L1080.24 176.92 L1080.96 175.04 L1081.68 173.23 L1082.4 171.48 L1083.12 169.77 L1083.85 168.09 L1084.57 166.44 L1085.29 164.8 L1086.01 163.17 L1086.73 161.53 L1087.45 159.89 L1088.18 158.24 L1088.9 156.58 L1089.62 154.9 L1090.34 153.19 L1091.06 151.47 L1091.79 149.73 L1092.51 147.96 L1093.23 146.17 L1093.95 144.37 L1094.67 142.55 L1095.39 140.71 L1096.12 138.87 L1096.84 137.01 L1097.56 135.15 L1098.28 133.29 L1099 131.43 L1099.72 129.58 L1100.45 127.73 L1101.17 125.89 L1101.89 124.07 L1102.61 122.26 L1103.33 120.48 L1104.06 118.71 L1104.78 116.97 L1105.5 115.25 L1106.22 113.56 L1106.94 111.9 L1107.66 110.27 L1108.39 108.67 L1109.11 107.1 L1109.83 105.56 L1110.55 104.06 L1111.27 102.59 L1111.99 101.16 L1112.72 99.76 L1113.44 98.39 L1114.16 97.06 L1114.88 95.76 L1115.6 94.49 L1116.32 93.26 L1117.05 92.05 L1117.77 90.88 L1118.49 89.75 L1119.21 88.64 L1119.93 87.56 L1120.66 86.51 L1121.38 85.49 L1122.1 84.5 L1122.82 83.54 L1123.54 82.6 L1124.26 81.69 L1124.99 80.8 L1125.71 79.94 L1126.43 79.1 L1127.15 78.29 L1127.87 77.5 L1128.59 76.73 L1129.32 75.98 L1130.04 75.25 L1130.76 74.54 L1131.48 73.86 L1132.2 73.19 L1132.92 72.54 L1133.65 71.9 L1134.37 71.29 L1135.09 70.69 L1135.81 70.1 L1136.53 69.53 L1137.26 68.98 L1137.98 68.44 L1138.7 67.92 L1139.42 67.4 L1140.14 66.91 L1140.86 66.42 L1141.59 65.95 L1142.31 65.49 L1143.03 65.04 L1143.75 64.6 L1144.47 64.17 L1145.19 63.76 L1145.92 63.35 L1146.64 62.95 L1147.36 62.57 L1148.08 62.19 L1148.8 61.82 L1149.53 61.46 L1150.25 61.11 L1150.97 60.77 L1151.69 60.44 L1152.41 60.11 L1153.13 59.79 L1153.86 59.48 L1154.58 59.17 L1155.3 58.87 L1156.02 58.58 L1156.74 58.3 L1157.46 58.02 L1158.19 57.75 L1158.91 57.48 L1159.63 57.22 L1160.35 56.96 L1161.07 56.72 L1161.79 56.47 L1162.52 56.23 L1163.24 56 L1163.96 55.77 L1164.68 55.54 L1165.4 55.32 L1166.13 55.11 L1166.85 54.9 L1167.57 54.69 L1168.29 54.49 L1169.01 54.29 L1169.73 54.09 L1170.46 53.9 L1171.18 53.72 L1171.9 53.53 L1172.62 53.35 L1173.34 53.18 L1174.06 53 L1174.79 52.83 L1175.51 52.67 L1176.23 52.5 L1176.95 52.34 L1177.67 52.19 L1178.39 52.03 L1179.12 51.88 L1179.84 51.73 L1180.56 51.58 L1181.28 51.44 L1182 51.3 L1182.73 51.16 L1183.45 51.02 L1184.17 50.89 L1184.89 50.76 L1185.61 50.63 L1186.33 50.5 L1187.06 50.38 L1187.78 50.25 L1188.5 50.13 L1189.22 50.01 L1189.94 49.9 L1190.66 49.78 L1191.39 49.67 L1192.11 49.56 L1192.83 49.45 L1193.55 49.34 L1194.27 49.23 L1194.99 49.13 L1195.72 49.03 L1196.44 48.93 L1197.16 48.83 L1197.88 48.73 L1198.6 48.63 L1199.33 48.54 L1200.05 48.45 L1200.77 48.35 L1201.49 48.26 L1202.21 48.17 L1202.93 48.09 L1203.66 48 L1204.38 47.91 L1205.1 47.83 L1205.82 47.75 L1206.54 47.67 L1207.26 47.59 L1207.99 47.51 L1208.71 47.43 L1209.43 47.35 L1210.15 47.28 L1210.87 47.2 L1211.6 47.13 L1212.32 47.06 L1213.04 46.98 L1213.76 46.91 L1214.48 46.84 L1215.2 46.78 L1215.93 46.71 L1216.65 46.64 L1217.37 46.58 L1218.09 46.51 L1218.81 46.45 L1219.53 46.38 L1220.26 46.32 L1220.98 46.26 L1221.7 46.2 L1222.42 46.14 L1223.14 46.08 L1223.86 46.02 L1224.59 45.96 L1225.31 45.91 L1226.03 45.85 L1226.75 45.8 L1227.47 45.74 L1228.2 45.69 L1228.92 45.63 L1229.64 45.58 L1230.36 45.53 L1231.08 45.48 L1231.8 45.43 L1232.53 45.38 L1233.25 45.33 L1233.97 45.28 L1234.69 45.23 L1235.41 45.18 L1236.13 45.14 L1236.86 45.09 L1237.58 45.04 L1238.3 45 L1239.02 44.95 L1239.74 44.91 L1240.46 44.86 L1241.19 44.82 L1241.91 44.78 L1242.63 44.74 L1243.35 44.69 L1244.07 44.65 L1244.8 44.61 L1245.52 44.57 L1246.24 44.53 L1246.96 44.49 L1247.68 44.45 L1248.4 44.41 L1249.13 44.38 L1249.85 44.34 L1250.57 44.3 L1251.29 44.26 L1252.01 44.23 L1252.73 44.19 L1253.46 44.16 L1254.18 44.12 L1254.9 44.09 L1255.62 44.05 L1256.34 44.02 L1257.07 43.98 L1257.79 43.95 L1258.51 43.92 L1259.23 43.88 L1259.95 43.85 L1260.67 43.82 L1261.4 43.79 L1262.12 43.76 L1262.84 43.73 L1263.56 43.69 L1264.28 43.66 L1265 43.63 L1265.73 43.6 L1266.45 43.57 L1267.17 43.55 L1267.89 43.52 L1268.61 43.49 L1269.33 43.46 L1270.06 43.43 L1270.78 43.4 L1271.5 43.38" fill="none" stroke="#151515" stroke-width="2.6" stroke-linejoin="round" stroke-linecap="round"></path>
<path d="M767 40.72 L767.72 40.73 L768.44 40.73 L769.17 40.74 L769.89 40.75 L770.61 40.76 L771.33 40.77 L772.05 40.78 L772.77 40.79 L773.5 40.79 L774.22 40.8 L774.94 40.81 L775.66 40.82 L776.38 40.83 L777.1 40.84 L777.83 40.85 L778.55 40.86 L779.27 40.87 L779.99 40.88 L780.71 40.89 L781.43 40.9 L782.16 40.91 L782.88 40.92 L783.6 40.93 L784.32 40.94 L785.04 40.95 L785.77 40.96 L786.49 40.97 L787.21 40.98 L787.93 40.99 L788.65 41 L789.37 41.01 L790.1 41.02 L790.82 41.03 L791.54 41.04 L792.26 41.06 L792.98 41.07 L793.7 41.08 L794.43 41.09 L795.15 41.1 L795.87 41.11 L796.59 41.12 L797.31 41.14 L798.04 41.15 L798.76 41.16 L799.48 41.17 L800.2 41.19 L800.92 41.2 L801.64 41.21 L802.37 41.22 L803.09 41.24 L803.81 41.25 L804.53 41.26 L805.25 41.28 L805.97 41.29 L806.7 41.3 L807.42 41.32 L808.14 41.33 L808.86 41.34 L809.58 41.36 L810.3 41.37 L811.03 41.39 L811.75 41.4 L812.47 41.41 L813.19 41.43 L813.91 41.44 L814.64 41.46 L815.36 41.47 L816.08 41.49 L816.8 41.51 L817.52 41.52 L818.24 41.54 L818.97 41.55 L819.69 41.57 L820.41 41.59 L821.13 41.6 L821.85 41.62 L822.57 41.64 L823.3 41.65 L824.02 41.67 L824.74 41.69 L825.46 41.7 L826.18 41.72 L826.9 41.74 L827.63 41.76 L828.35 41.78 L829.07 41.8 L829.79 41.81 L830.51 41.83 L831.24 41.85 L831.96 41.87 L832.68 41.89 L833.4 41.91 L834.12 41.93 L834.84 41.95 L835.57 41.97 L836.29 41.99 L837.01 42.01 L837.73 42.03 L838.45 42.06 L839.17 42.08 L839.9 42.1 L840.62 42.12 L841.34 42.14 L842.06 42.17 L842.78 42.19 L843.51 42.21 L844.23 42.24 L844.95 42.26 L845.67 42.28 L846.39 42.31 L847.11 42.33 L847.84 42.36 L848.56 42.38 L849.28 42.41 L850 42.43 L850.72 42.46 L851.44 42.49 L852.17 42.51 L852.89 42.54 L853.61 42.57 L854.33 42.6 L855.05 42.62 L855.77 42.65 L856.5 42.68 L857.22 42.71 L857.94 42.74 L858.66 42.77 L859.38 42.8 L860.11 42.83 L860.83 42.86 L861.55 42.89 L862.27 42.93 L862.99 42.96 L863.71 42.99 L864.44 43.02 L865.16 43.06 L865.88 43.09 L866.6 43.13 L867.32 43.16 L868.04 43.2 L868.77 43.23 L869.49 43.27 L870.21 43.31 L870.93 43.34 L871.65 43.38 L872.37 43.42 L873.1 43.46 L873.82 43.5 L874.54 43.54 L875.26 43.58 L875.98 43.62 L876.71 43.66 L877.43 43.71 L878.15 43.75 L878.87 43.79 L879.59 43.84 L880.31 43.88 L881.04 43.93 L881.76 43.97 L882.48 44.02 L883.2 44.07 L883.92 44.12 L884.64 44.17 L885.37 44.22 L886.09 44.27 L886.81 44.32 L887.53 44.37 L888.25 44.43 L888.97 44.48 L889.7 44.53 L890.42 44.59 L891.14 44.65 L891.86 44.7 L892.58 44.76 L893.31 44.82 L894.03 44.88 L894.75 44.94 L895.47 45.01 L896.19 45.07 L896.91 45.14 L897.64 45.2 L898.36 45.27 L899.08 45.34 L899.8 45.4 L900.52 45.47 L901.24 45.55 L901.97 45.62 L902.69 45.69 L903.41 45.77 L904.13 45.84 L904.85 45.92 L905.58 46 L906.3 46.08 L907.02 46.16 L907.74 46.25 L908.46 46.33 L909.18 46.42 L909.91 46.51 L910.63 46.6 L911.35 46.69 L912.07 46.78 L912.79 46.88 L913.51 46.98 L914.24 47.08 L914.96 47.18 L915.68 47.28 L916.4 47.38 L917.12 47.49 L917.84 47.6 L918.57 47.71 L919.29 47.83 L920.01 47.94 L920.73 48.06 L921.45 48.18 L922.18 48.3 L922.9 48.43 L923.62 48.56 L924.34 48.69 L925.06 48.82 L925.78 48.96 L926.51 49.1 L927.23 49.24 L927.95 49.39 L928.67 49.54 L929.39 49.69 L930.11 49.85 L930.84 50.01 L931.56 50.17 L932.28 50.34 L933 50.51 L933.72 50.69 L934.44 50.87 L935.17 51.05 L935.89 51.24 L936.61 51.43 L937.33 51.63 L938.05 51.83 L938.78 52.04 L939.5 52.26 L940.22 52.47 L940.94 52.7 L941.66 52.93 L942.38 53.16 L943.11 53.41 L943.83 53.65 L944.55 53.91 L945.27 54.17 L945.99 54.44 L946.71 54.72 L947.44 55 L948.16 55.3 L948.88 55.6 L949.6 55.91 L950.32 56.23 L951.05 56.55 L951.77 56.89 L952.49 57.24 L953.21 57.6 L953.93 57.97 L954.65 58.35 L955.38 58.74 L956.1 59.15 L956.82 59.56 L957.54 60 L958.26 60.44 L958.98 60.9 L959.71 61.38 L960.43 61.87 L961.15 62.38 L961.87 62.9 L962.59 63.45 L963.31 64.01 L964.04 64.6 L964.76 65.2 L965.48 65.83 L966.2 66.48 L966.92 67.15 L967.65 67.85 L968.37 68.58 L969.09 69.34 L969.81 70.12 L970.53 70.94 L971.25 71.79 L971.98 72.67 L972.7 73.59 L973.42 74.55 L974.14 75.55 L974.86 76.6 L975.58 77.69 L976.31 78.82 L977.03 80.01 L977.75 81.25 L978.47 82.55 L979.19 83.91 L979.91 85.34 L980.64 86.83 L981.36 88.4 L982.08 90.04 L982.8 91.77 L983.52 93.58 L984.25 95.48 L984.97 97.49 L985.69 99.6 L986.41 101.82 L987.13 104.16 L987.85 106.63 L988.58 109.23 L989.3 111.98 L990.02 114.89 L990.74 117.96 L991.46 121.21 L992.18 124.64 L992.91 128.27 L993.63 132.12 L994.35 136.19 L995.07 140.51 L995.79 145.07 L996.52 149.91 L997.24 155.03 L997.96 160.44 L998.68 166.17 L999.4 172.21 L1000.12 178.59 L1000.85 185.31 L1001.57 192.38 L1002.29 199.79 L1003.01 207.54 L1003.73 215.61 L1004.45 223.98 L1005.18 232.62 L1005.9 241.49 L1006.62 250.52 L1007.34 259.64 L1008.06 268.76 L1008.78 277.76 L1009.51 286.54 L1010.23 294.94 L1010.95 302.83 L1011.67 310.05 L1012.39 316.46 L1013.12 321.91 L1013.84 326.29 L1014.56 329.5 L1015.28 331.48 L1016 332.21 L1016.72 331.7 L1017.45 330.01 L1018.17 327.22 L1018.89 323.46 L1019.61 318.85 L1020.33 313.56 L1021.05 307.74 L1021.78 301.54 L1022.5 295.13 L1023.22 288.62 L1023.94 282.15 L1024.66 275.82 L1025.38 269.71 L1026.11 263.92 L1026.83 258.49 L1027.55 253.48 L1028.27 248.91 L1028.99 244.83 L1029.72 241.25 L1030.44 238.19 L1031.16 235.66 L1031.88 233.66 L1032.6 232.19 L1033.32 231.27 L1034.05 230.9 L1034.77 231.07 L1035.49 231.78 L1036.21 233.04 L1036.93 234.83 L1037.65 237.16 L1038.38 240.03 L1039.1 243.41 L1039.82 247.3 L1040.54 251.68 L1041.26 256.53 L1041.98 261.81 L1042.71 267.47 L1043.43 273.46 L1044.15 279.71 L1044.87 286.14 L1045.59 292.65 L1046.32 299.12 L1047.04 305.42 L1047.76 311.4 L1048.48 316.91 L1049.2 321.79 L1049.92 325.9 L1050.65 329.07 L1051.37 331.19 L1052.09 332.16 L1052.81 331.91 L1053.53 330.4 L1054.25 327.65 L1054.98 323.71 L1055.7 318.65 L1056.42 312.59 L1057.14 305.67 L1057.86 298.01 L1058.59 289.79 L1059.31 281.14 L1060.03 272.21 L1060.75 263.12 L1061.47 253.99 L1062.19 244.91 L1062.92 235.98 L1063.64 227.24 L1064.36 218.76 L1065.08 210.57 L1065.8 202.7 L1066.52 195.16 L1067.25 187.96 L1067.97 181.11 L1068.69 174.6 L1069.41 168.43 L1070.13 162.58 L1070.85 157.05 L1071.58 151.82 L1072.3 146.88 L1073.02 142.21 L1073.74 137.81 L1074.46 133.64 L1075.19 129.71 L1075.91 126 L1076.63 122.49 L1077.35 119.17 L1078.07 116.04 L1078.79 113.07 L1079.52 110.26 L1080.24 107.6 L1080.96 105.08 L1081.68 102.69 L1082.4 100.43 L1083.12 98.28 L1083.85 96.23 L1084.57 94.29 L1085.29 92.45 L1086.01 90.69 L1086.73 89.01 L1087.45 87.42 L1088.18 85.9 L1088.9 84.45 L1089.62 83.06 L1090.34 81.74 L1091.06 80.48 L1091.79 79.27 L1092.51 78.11 L1093.23 77.01 L1093.95 75.95 L1094.67 74.93 L1095.39 73.95 L1096.12 73.02 L1096.84 72.12 L1097.56 71.26 L1098.28 70.43 L1099 69.63 L1099.72 68.87 L1100.45 68.13 L1101.17 67.42 L1101.89 66.73 L1102.61 66.07 L1103.33 65.44 L1104.06 64.82 L1104.78 64.23 L1105.5 63.66 L1106.22 63.11 L1106.94 62.58 L1107.66 62.06 L1108.39 61.56 L1109.11 61.08 L1109.83 60.62 L1110.55 60.16 L1111.27 59.73 L1111.99 59.3 L1112.72 58.89 L1113.44 58.5 L1114.16 58.11 L1114.88 57.74 L1115.6 57.38 L1116.32 57.02 L1117.05 56.68 L1117.77 56.35 L1118.49 56.03 L1119.21 55.71 L1119.93 55.41 L1120.66 55.11 L1121.38 54.83 L1122.1 54.55 L1122.82 54.27 L1123.54 54.01 L1124.26 53.75 L1124.99 53.5 L1125.71 53.26 L1126.43 53.02 L1127.15 52.78 L1127.87 52.56 L1128.59 52.34 L1129.32 52.12 L1130.04 51.91 L1130.76 51.71 L1131.48 51.51 L1132.2 51.31 L1132.92 51.12 L1133.65 50.94 L1134.37 50.76 L1135.09 50.58 L1135.81 50.41 L1136.53 50.24 L1137.26 50.07 L1137.98 49.91 L1138.7 49.75 L1139.42 49.6 L1140.14 49.45 L1140.86 49.3 L1141.59 49.16 L1142.31 49.01 L1143.03 48.88 L1143.75 48.74 L1144.47 48.61 L1145.19 48.48 L1145.92 48.35 L1146.64 48.23 L1147.36 48.11 L1148.08 47.99 L1148.8 47.87 L1149.53 47.76 L1150.25 47.64 L1150.97 47.53 L1151.69 47.42 L1152.41 47.32 L1153.13 47.22 L1153.86 47.11 L1154.58 47.01 L1155.3 46.92 L1156.02 46.82 L1156.74 46.73 L1157.46 46.63 L1158.19 46.54 L1158.91 46.45 L1159.63 46.37 L1160.35 46.28 L1161.07 46.2 L1161.79 46.11 L1162.52 46.03 L1163.24 45.95 L1163.96 45.87 L1164.68 45.8 L1165.4 45.72 L1166.13 45.65 L1166.85 45.57 L1167.57 45.5 L1168.29 45.43 L1169.01 45.36 L1169.73 45.29 L1170.46 45.23 L1171.18 45.16 L1171.9 45.09 L1172.62 45.03 L1173.34 44.97 L1174.06 44.91 L1174.79 44.85 L1175.51 44.79 L1176.23 44.73 L1176.95 44.67 L1177.67 44.61 L1178.39 44.56 L1179.12 44.5 L1179.84 44.45 L1180.56 44.39 L1181.28 44.34 L1182 44.29 L1182.73 44.24 L1183.45 44.19 L1184.17 44.14 L1184.89 44.09 L1185.61 44.04 L1186.33 43.99 L1187.06 43.95 L1187.78 43.9 L1188.5 43.85 L1189.22 43.81 L1189.94 43.77 L1190.66 43.72 L1191.39 43.68 L1192.11 43.64 L1192.83 43.6 L1193.55 43.55 L1194.27 43.51 L1194.99 43.47 L1195.72 43.43 L1196.44 43.4 L1197.16 43.36 L1197.88 43.32 L1198.6 43.28 L1199.33 43.25 L1200.05 43.21 L1200.77 43.17 L1201.49 43.14 L1202.21 43.1 L1202.93 43.07 L1203.66 43.04 L1204.38 43 L1205.1 42.97 L1205.82 42.94 L1206.54 42.91 L1207.26 42.87 L1207.99 42.84 L1208.71 42.81 L1209.43 42.78 L1210.15 42.75 L1210.87 42.72 L1211.6 42.69 L1212.32 42.66 L1213.04 42.63 L1213.76 42.61 L1214.48 42.58 L1215.2 42.55 L1215.93 42.52 L1216.65 42.5 L1217.37 42.47 L1218.09 42.44 L1218.81 42.42 L1219.53 42.39 L1220.26 42.37 L1220.98 42.34 L1221.7 42.32 L1222.42 42.29 L1223.14 42.27 L1223.86 42.24 L1224.59 42.22 L1225.31 42.2 L1226.03 42.17 L1226.75 42.15 L1227.47 42.13 L1228.2 42.11 L1228.92 42.09 L1229.64 42.06 L1230.36 42.04 L1231.08 42.02 L1231.8 42 L1232.53 41.98 L1233.25 41.96 L1233.97 41.94 L1234.69 41.92 L1235.41 41.9 L1236.13 41.88 L1236.86 41.86 L1237.58 41.84 L1238.3 41.82 L1239.02 41.8 L1239.74 41.78 L1240.46 41.77 L1241.19 41.75 L1241.91 41.73 L1242.63 41.71 L1243.35 41.69 L1244.07 41.68 L1244.8 41.66 L1245.52 41.64 L1246.24 41.63 L1246.96 41.61 L1247.68 41.59 L1248.4 41.58 L1249.13 41.56 L1249.85 41.54 L1250.57 41.53 L1251.29 41.51 L1252.01 41.5 L1252.73 41.48 L1253.46 41.47 L1254.18 41.45 L1254.9 41.44 L1255.62 41.42 L1256.34 41.41 L1257.07 41.39 L1257.79 41.38 L1258.51 41.36 L1259.23 41.35 L1259.95 41.33 L1260.67 41.32 L1261.4 41.31 L1262.12 41.29 L1262.84 41.28 L1263.56 41.27 L1264.28 41.25 L1265 41.24 L1265.73 41.23 L1266.45 41.22 L1267.17 41.2 L1267.89 41.19 L1268.61 41.18 L1269.33 41.17 L1270.06 41.15 L1270.78 41.14 L1271.5 41.13" fill="none" stroke="#2ce02c" stroke-width="3.6" stroke-linejoin="round" stroke-linecap="round"></path>
<path d="M767 40.9 L767.72 40.91 L768.44 40.92 L769.17 40.93 L769.89 40.94 L770.61 40.95 L771.33 40.96 L772.05 40.97 L772.77 40.98 L773.5 40.99 L774.22 41 L774.94 41.01 L775.66 41.03 L776.38 41.04 L777.1 41.05 L777.83 41.06 L778.55 41.07 L779.27 41.08 L779.99 41.1 L780.71 41.11 L781.43 41.12 L782.16 41.13 L782.88 41.14 L783.6 41.16 L784.32 41.17 L785.04 41.18 L785.77 41.19 L786.49 41.21 L787.21 41.22 L787.93 41.23 L788.65 41.25 L789.37 41.26 L790.1 41.27 L790.82 41.29 L791.54 41.3 L792.26 41.31 L792.98 41.33 L793.7 41.34 L794.43 41.36 L795.15 41.37 L795.87 41.39 L796.59 41.4 L797.31 41.42 L798.04 41.43 L798.76 41.45 L799.48 41.46 L800.2 41.48 L800.92 41.49 L801.64 41.51 L802.37 41.53 L803.09 41.54 L803.81 41.56 L804.53 41.58 L805.25 41.59 L805.97 41.61 L806.7 41.63 L807.42 41.64 L808.14 41.66 L808.86 41.68 L809.58 41.7 L810.3 41.72 L811.03 41.73 L811.75 41.75 L812.47 41.77 L813.19 41.79 L813.91 41.81 L814.64 41.83 L815.36 41.85 L816.08 41.87 L816.8 41.89 L817.52 41.91 L818.24 41.93 L818.97 41.95 L819.69 41.97 L820.41 41.99 L821.13 42.02 L821.85 42.04 L822.57 42.06 L823.3 42.08 L824.02 42.11 L824.74 42.13 L825.46 42.15 L826.18 42.18 L826.9 42.2 L827.63 42.22 L828.35 42.25 L829.07 42.27 L829.79 42.3 L830.51 42.32 L831.24 42.35 L831.96 42.38 L832.68 42.4 L833.4 42.43 L834.12 42.46 L834.84 42.48 L835.57 42.51 L836.29 42.54 L837.01 42.57 L837.73 42.6 L838.45 42.63 L839.17 42.66 L839.9 42.69 L840.62 42.72 L841.34 42.75 L842.06 42.78 L842.78 42.81 L843.51 42.84 L844.23 42.88 L844.95 42.91 L845.67 42.94 L846.39 42.98 L847.11 43.01 L847.84 43.05 L848.56 43.08 L849.28 43.12 L850 43.15 L850.72 43.19 L851.44 43.23 L852.17 43.27 L852.89 43.3 L853.61 43.34 L854.33 43.38 L855.05 43.42 L855.77 43.47 L856.5 43.51 L857.22 43.55 L857.94 43.59 L858.66 43.64 L859.38 43.68 L860.11 43.72 L860.83 43.77 L861.55 43.82 L862.27 43.86 L862.99 43.91 L863.71 43.96 L864.44 44.01 L865.16 44.06 L865.88 44.11 L866.6 44.16 L867.32 44.21 L868.04 44.27 L868.77 44.32 L869.49 44.38 L870.21 44.43 L870.93 44.49 L871.65 44.55 L872.37 44.61 L873.1 44.67 L873.82 44.73 L874.54 44.79 L875.26 44.85 L875.98 44.92 L876.71 44.98 L877.43 45.05 L878.15 45.12 L878.87 45.19 L879.59 45.26 L880.31 45.33 L881.04 45.4 L881.76 45.48 L882.48 45.55 L883.2 45.63 L883.92 45.71 L884.64 45.79 L885.37 45.87 L886.09 45.95 L886.81 46.03 L887.53 46.12 L888.25 46.21 L888.97 46.3 L889.7 46.39 L890.42 46.48 L891.14 46.58 L891.86 46.67 L892.58 46.77 L893.31 46.87 L894.03 46.97 L894.75 47.08 L895.47 47.18 L896.19 47.29 L896.91 47.41 L897.64 47.52 L898.36 47.63 L899.08 47.75 L899.8 47.87 L900.52 48 L901.24 48.12 L901.97 48.25 L902.69 48.39 L903.41 48.52 L904.13 48.66 L904.85 48.8 L905.58 48.94 L906.3 49.09 L907.02 49.24 L907.74 49.39 L908.46 49.55 L909.18 49.71 L909.91 49.88 L910.63 50.05 L911.35 50.22 L912.07 50.4 L912.79 50.58 L913.51 50.77 L914.24 50.96 L914.96 51.15 L915.68 51.35 L916.4 51.56 L917.12 51.77 L917.84 51.98 L918.57 52.2 L919.29 52.43 L920.01 52.66 L920.73 52.9 L921.45 53.15 L922.18 53.4 L922.9 53.65 L923.62 53.92 L924.34 54.19 L925.06 54.47 L925.78 54.76 L926.51 55.05 L927.23 55.35 L927.95 55.66 L928.67 55.98 L929.39 56.31 L930.11 56.65 L930.84 56.99 L931.56 57.35 L932.28 57.72 L933 58.09 L933.72 58.48 L934.44 58.88 L935.17 59.29 L935.89 59.72 L936.61 60.15 L937.33 60.6 L938.05 61.06 L938.78 61.53 L939.5 62.02 L940.22 62.52 L940.94 63.04 L941.66 63.57 L942.38 64.12 L943.11 64.69 L943.83 65.27 L944.55 65.87 L945.27 66.48 L945.99 67.12 L946.71 67.77 L947.44 68.44 L948.16 69.13 L948.88 69.84 L949.6 70.57 L950.32 71.33 L951.05 72.1 L951.77 72.89 L952.49 73.71 L953.21 74.55 L953.93 75.41 L954.65 76.29 L955.38 77.19 L956.1 78.12 L956.82 79.06 L957.54 80.03 L958.26 81.02 L958.98 82.03 L959.71 83.07 L960.43 84.12 L961.15 85.18 L961.87 86.27 L962.59 87.37 L963.31 88.49 L964.04 89.61 L964.76 90.75 L965.48 91.9 L966.2 93.05 L966.92 94.2 L967.65 95.35 L968.37 96.5 L969.09 97.64 L969.81 98.77 L970.53 99.88 L971.25 100.97 L971.98 102.03 L972.7 103.06 L973.42 104.06 L974.14 105.02 L974.86 105.93 L975.58 106.79 L976.31 107.6 L977.03 108.35 L977.75 109.03 L978.47 109.64 L979.19 110.18 L979.91 110.64 L980.64 111.02 L981.36 111.32 L982.08 111.54 L982.8 111.67 L983.52 111.72 L984.25 111.68 L984.97 111.56 L985.69 111.35 L986.41 111.07 L987.13 110.7 L987.85 110.26 L988.58 109.75 L989.3 109.18 L990.02 108.53 L990.74 107.84 L991.46 107.08 L992.18 106.28 L992.91 105.44 L993.63 104.55 L994.35 103.64 L995.07 102.7 L995.79 101.73 L996.52 100.75 L997.24 99.75 L997.96 98.74 L998.68 97.72 L999.4 96.71 L1000.12 95.69 L1000.85 94.68 L1001.57 93.68 L1002.29 92.69 L1003.01 91.71 L1003.73 90.74 L1004.45 89.8 L1005.18 88.87 L1005.9 87.95 L1006.62 87.06 L1007.34 86.19 L1008.06 85.35 L1008.78 84.53 L1009.51 83.73 L1010.23 82.95 L1010.95 82.2 L1011.67 81.48 L1012.39 80.78 L1013.12 80.1 L1013.84 79.45 L1014.56 78.83 L1015.28 78.23 L1016 77.65 L1016.72 77.1 L1017.45 76.57 L1018.17 76.07 L1018.89 75.59 L1019.61 75.14 L1020.33 74.7 L1021.05 74.29 L1021.78 73.91 L1022.5 73.54 L1023.22 73.2 L1023.94 72.88 L1024.66 72.58 L1025.38 72.3 L1026.11 72.05 L1026.83 71.81 L1027.55 71.59 L1028.27 71.4 L1028.99 71.22 L1029.72 71.07 L1030.44 70.93 L1031.16 70.82 L1031.88 70.72 L1032.6 70.64 L1033.32 70.58 L1034.05 70.55 L1034.77 70.53 L1035.49 70.53 L1036.21 70.54 L1036.93 70.58 L1037.65 70.64 L1038.38 70.72 L1039.1 70.81 L1039.82 70.93 L1040.54 71.06 L1041.26 71.22 L1041.98 71.39 L1042.71 71.59 L1043.43 71.8 L1044.15 72.04 L1044.87 72.3 L1045.59 72.57 L1046.32 72.87 L1047.04 73.19 L1047.76 73.53 L1048.48 73.9 L1049.2 74.28 L1049.92 74.69 L1050.65 75.12 L1051.37 75.58 L1052.09 76.06 L1052.81 76.56 L1053.53 77.08 L1054.25 77.63 L1054.98 78.21 L1055.7 78.81 L1056.42 79.43 L1057.14 80.08 L1057.86 80.76 L1058.59 81.45 L1059.31 82.18 L1060.03 82.93 L1060.75 83.7 L1061.47 84.5 L1062.19 85.32 L1062.92 86.17 L1063.64 87.04 L1064.36 87.93 L1065.08 88.84 L1065.8 89.77 L1066.52 90.71 L1067.25 91.68 L1067.97 92.66 L1068.69 93.65 L1069.41 94.65 L1070.13 95.66 L1070.85 96.68 L1071.58 97.69 L1072.3 98.71 L1073.02 99.72 L1073.74 100.71 L1074.46 101.7 L1075.19 102.67 L1075.91 103.61 L1076.63 104.53 L1077.35 105.41 L1078.07 106.26 L1078.79 107.06 L1079.52 107.81 L1080.24 108.51 L1080.96 109.16 L1081.68 109.74 L1082.4 110.25 L1083.12 110.69 L1083.85 111.06 L1084.57 111.35 L1085.29 111.55 L1086.01 111.68 L1086.73 111.72 L1087.45 111.68 L1088.18 111.55 L1088.9 111.33 L1089.62 111.03 L1090.34 110.65 L1091.06 110.19 L1091.79 109.66 L1092.51 109.05 L1093.23 108.37 L1093.95 107.62 L1094.67 106.82 L1095.39 105.96 L1096.12 105.05 L1096.84 104.09 L1097.56 103.1 L1098.28 102.06 L1099 101 L1099.72 99.91 L1100.45 98.8 L1101.17 97.68 L1101.89 96.54 L1102.61 95.39 L1103.33 94.24 L1104.06 93.08 L1104.78 91.93 L1105.5 90.79 L1106.22 89.65 L1106.94 88.52 L1107.66 87.41 L1108.39 86.3 L1109.11 85.22 L1109.83 84.15 L1110.55 83.1 L1111.27 82.07 L1111.99 81.05 L1112.72 80.06 L1113.44 79.09 L1114.16 78.14 L1114.88 77.22 L1115.6 76.31 L1116.32 75.43 L1117.05 74.57 L1117.77 73.73 L1118.49 72.92 L1119.21 72.12 L1119.93 71.35 L1120.66 70.6 L1121.38 69.87 L1122.1 69.15 L1122.82 68.46 L1123.54 67.79 L1124.26 67.14 L1124.99 66.5 L1125.71 65.89 L1126.43 65.29 L1127.15 64.71 L1127.87 64.14 L1128.59 63.59 L1129.32 63.06 L1130.04 62.54 L1130.76 62.04 L1131.48 61.55 L1132.2 61.07 L1132.92 60.61 L1133.65 60.16 L1134.37 59.73 L1135.09 59.31 L1135.81 58.89 L1136.53 58.5 L1137.26 58.11 L1137.98 57.73 L1138.7 57.36 L1139.42 57.01 L1140.14 56.66 L1140.86 56.32 L1141.59 55.99 L1142.31 55.67 L1143.03 55.36 L1143.75 55.06 L1144.47 54.76 L1145.19 54.48 L1145.92 54.2 L1146.64 53.93 L1147.36 53.66 L1148.08 53.4 L1148.8 53.15 L1149.53 52.91 L1150.25 52.67 L1150.97 52.44 L1151.69 52.21 L1152.41 51.99 L1153.13 51.77 L1153.86 51.56 L1154.58 51.36 L1155.3 51.16 L1156.02 50.96 L1156.74 50.77 L1157.46 50.59 L1158.19 50.4 L1158.91 50.23 L1159.63 50.05 L1160.35 49.88 L1161.07 49.72 L1161.79 49.56 L1162.52 49.4 L1163.24 49.25 L1163.96 49.09 L1164.68 48.95 L1165.4 48.8 L1166.13 48.66 L1166.85 48.52 L1167.57 48.39 L1168.29 48.26 L1169.01 48.13 L1169.73 48 L1170.46 47.88 L1171.18 47.76 L1171.9 47.64 L1172.62 47.52 L1173.34 47.41 L1174.06 47.3 L1174.79 47.19 L1175.51 47.08 L1176.23 46.98 L1176.95 46.87 L1177.67 46.77 L1178.39 46.68 L1179.12 46.58 L1179.84 46.48 L1180.56 46.39 L1181.28 46.3 L1182 46.21 L1182.73 46.12 L1183.45 46.04 L1184.17 45.95 L1184.89 45.87 L1185.61 45.79 L1186.33 45.71 L1187.06 45.63 L1187.78 45.55 L1188.5 45.48 L1189.22 45.4 L1189.94 45.33 L1190.66 45.26 L1191.39 45.19 L1192.11 45.12 L1192.83 45.05 L1193.55 44.99 L1194.27 44.92 L1194.99 44.86 L1195.72 44.79 L1196.44 44.73 L1197.16 44.67 L1197.88 44.61 L1198.6 44.55 L1199.33 44.49 L1200.05 44.44 L1200.77 44.38 L1201.49 44.32 L1202.21 44.27 L1202.93 44.22 L1203.66 44.16 L1204.38 44.11 L1205.1 44.06 L1205.82 44.01 L1206.54 43.96 L1207.26 43.91 L1207.99 43.87 L1208.71 43.82 L1209.43 43.77 L1210.15 43.73 L1210.87 43.68 L1211.6 43.64 L1212.32 43.59 L1213.04 43.55 L1213.76 43.51 L1214.48 43.47 L1215.2 43.43 L1215.93 43.39 L1216.65 43.35 L1217.37 43.31 L1218.09 43.27 L1218.81 43.23 L1219.53 43.19 L1220.26 43.15 L1220.98 43.12 L1221.7 43.08 L1222.42 43.05 L1223.14 43.01 L1223.86 42.98 L1224.59 42.94 L1225.31 42.91 L1226.03 42.88 L1226.75 42.84 L1227.47 42.81 L1228.2 42.78 L1228.92 42.75 L1229.64 42.72 L1230.36 42.69 L1231.08 42.66 L1231.8 42.63 L1232.53 42.6 L1233.25 42.57 L1233.97 42.54 L1234.69 42.51 L1235.41 42.48 L1236.13 42.46 L1236.86 42.43 L1237.58 42.4 L1238.3 42.38 L1239.02 42.35 L1239.74 42.32 L1240.46 42.3 L1241.19 42.27 L1241.91 42.25 L1242.63 42.22 L1243.35 42.2 L1244.07 42.18 L1244.8 42.15 L1245.52 42.13 L1246.24 42.11 L1246.96 42.08 L1247.68 42.06 L1248.4 42.04 L1249.13 42.02 L1249.85 42 L1250.57 41.97 L1251.29 41.95 L1252.01 41.93 L1252.73 41.91 L1253.46 41.89 L1254.18 41.87 L1254.9 41.85 L1255.62 41.83 L1256.34 41.81 L1257.07 41.79 L1257.79 41.77 L1258.51 41.75 L1259.23 41.74 L1259.95 41.72 L1260.67 41.7 L1261.4 41.68 L1262.12 41.66 L1262.84 41.65 L1263.56 41.63 L1264.28 41.61 L1265 41.59 L1265.73 41.58 L1266.45 41.56 L1267.17 41.54 L1267.89 41.53 L1268.61 41.51 L1269.33 41.49 L1270.06 41.48 L1270.78 41.46 L1271.5 41.45" fill="none" stroke="#0909d6" stroke-width="3.8" stroke-linejoin="round" stroke-linecap="round"></path>
</g>
<clipPath id="clip2"><rect x="767" y="17.5" width="504.5" height="386.7"></rect></clipPath>
<rect x="767" y="17.5" width="504.5" height="386.7" fill="none" stroke="#141414" stroke-width="2.7"></rect>
<path d="M767 404.2v10M767 17.5v10M851.08 404.2v10M851.08 17.5v10M935.17 404.2v10M935.17 17.5v10M1019.25 404.2v10M1019.25 17.5v10M1103.33 404.2v10M1103.33 17.5v10M1187.42 404.2v10M1187.42 17.5v10M1271.5 404.2v10M1271.5 17.5v10M809.04 404.2v5M809.04 17.5v5M893.12 404.2v5M893.12 17.5v5M977.21 404.2v5M977.21 17.5v5M1061.29 404.2v5M1061.29 17.5v5M1145.38 404.2v5M1145.38 17.5v5M1229.46 404.2v5M1229.46 17.5v5M767 39.2h-10M1271.5 39.2h-10M767 130.4h-10M1271.5 130.4h-10M767 221.6h-10M1271.5 221.6h-10M767 312.8h-10M1271.5 312.8h-10M767 404h-10M1271.5 404h-10M767 84.8h-5M1271.5 84.8h-5M767 176h-5M1271.5 176h-5M767 267.2h-5M1271.5 267.2h-5M767 358.4h-5M1271.5 358.4h-5" stroke="#141414" stroke-width="2.7" fill="none"></path>
<g transform="translate(767 443.7) scale(1 1.04)"><text font-size="29.3" text-anchor="middle">-6</text></g>
<g transform="translate(851.08 443.7) scale(1 1.04)"><text font-size="29.3" text-anchor="middle">-4</text></g>
<g transform="translate(935.17 443.7) scale(1 1.04)"><text font-size="29.3" text-anchor="middle">-2</text></g>
<g transform="translate(1019.25 443.7) scale(1 1.04)"><text font-size="29.3" text-anchor="middle">0</text></g>
<g transform="translate(1103.33 443.7) scale(1 1.04)"><text font-size="29.3" text-anchor="middle">2</text></g>
<g transform="translate(1187.42 443.7) scale(1 1.04)"><text font-size="29.3" text-anchor="middle">4</text></g>
<g transform="translate(1271.5 443.7) scale(1 1.04)"><text font-size="29.3" text-anchor="middle">6</text></g>
<g transform="translate(754.5 47.2) scale(1 1.04)"><text font-size="29.3" text-anchor="end">1,00</text><rect x="-56.16" width="6.39" y="-3.25" height="4.25" fill="#fff"></rect><rect x="-47.12" width="5.95" y="-3.25" height="4.25" fill="#fff"></rect></g>
<g transform="translate(754.5 138.4) scale(1 1.04)"><text font-size="29.3" text-anchor="end">0,98</text></g>
<g transform="translate(754.5 229.6) scale(1 1.04)"><text font-size="29.3" text-anchor="end">0,96</text></g>
<g transform="translate(754.5 320.8) scale(1 1.04)"><text font-size="29.3" text-anchor="end">0,94</text></g>
<g transform="translate(754.5 412) scale(1 1.04)"><text font-size="29.3" text-anchor="end">0,92</text></g>
<g fill="none" stroke="#6a6a6a" stroke-width="1.6"><circle cx="806.9" cy="268.9" r="7.2"></circle></g>
<path d="M779.5 299.2H834.8" stroke="#151515" stroke-width="2.4"></path>
<path d="M779.5 330.4H834.8" stroke="#2ce02c" stroke-width="3.6"></path>
<path d="M779.5 361.6H834.8" stroke="#0909d6" stroke-width="3.6"></path>
<g transform="translate(204.8 269.5)"><text font-size="24" text-anchor="start">Exp</text></g>
<g transform="translate(204.8 299.9)"><text font-size="24" text-anchor="start">Fit</text></g>
<g transform="translate(204.8 330.6)"><text font-size="24" text-anchor="start">D1 - 62,0%</text><rect x="18.04" width="5.33" y="-2.71" height="3.71" fill="#fff"></rect><rect x="25.58" width="4.97" y="-2.71" height="3.71" fill="#fff"></rect></g>
<g transform="translate(204.8 361.4)"><text font-size="24" text-anchor="start">D2 - 38,0%</text></g>
<g transform="translate(841.5 277.1)"><text font-size="24" text-anchor="start">Exp</text></g>
<g transform="translate(841.5 307.4)"><text font-size="24" text-anchor="start">Fit</text></g>
<g transform="translate(841.5 338.6)"><text font-size="24" text-anchor="start">D1 - 65,7%</text><rect x="18.04" width="5.33" y="-2.71" height="3.71" fill="#fff"></rect><rect x="25.58" width="4.97" y="-2.71" height="3.71" fill="#fff"></rect></g>
<g transform="translate(841.5 369.8)"><text font-size="24" text-anchor="start">D2 - 34,3%</text></g>
<g transform="translate(38.4 224) rotate(-90) scale(1 1.04)"><text font-size="36" text-anchor="middle">Transmission</text></g>
<g transform="translate(684.4 191) rotate(-90) scale(1 1.04)"><text font-size="36" text-anchor="middle">Transmission</text></g>
<g transform="translate(381.8 478.3) scale(1 1.04)"><text font-size="32.2" text-anchor="middle">Velocity (mm s<tspan font-size="18" dy="-17.5" dx="0.5">-1</tspan><tspan dy="17.5" dx="3">)</tspan></text><rect x="96.57" width="4.07" y="-19.57" height="3.07" fill="#fff"></rect><rect x="102.32" width="3.79" y="-19.57" height="3.07" fill="#fff"></rect></g>
<g transform="translate(1019.3 479) scale(1 1.04)"><text font-size="32.2" text-anchor="middle">Velocity (mm s<tspan font-size="18" dy="-17.5" dx="0.5">-1</tspan><tspan dy="17.5" dx="3">)</tspan></text><rect x="96.57" width="4.07" y="-19.57" height="3.07" fill="#fff"></rect><rect x="102.32" width="3.79" y="-19.57" height="3.07" fill="#fff"></rect></g>
<g transform="translate(2 32.3)"><text font-size="38" text-anchor="start">a</text></g>
<g transform="translate(649.6 38)"><text font-size="38" text-anchor="start">b</text></g>
<g transform="translate(0 488.5)"><text font-size="38" text-anchor="start">c</text></g>
<g transform="translate(645.4 490.5)"><text font-size="38" text-anchor="start">d</text></g>
<clipPath id="clipc"><rect x="129" y="498" width="505" height="386.5"></rect></clipPath>
<g clip-path="url(#clipc)">
<g fill="none" stroke="#9c44a6" stroke-width="1.7"><circle cx="134.4" cy="876.2" r="3.75"></circle><circle cx="142.83" cy="870.6" r="3.75"></circle><circle cx="151.26" cy="862.2" r="3.75"></circle><circle cx="159.69" cy="855.2" r="3.75"></circle><circle cx="168.12" cy="852.8" r="3.75"></circle><circle cx="176.55" cy="851.9" r="3.75"></circle><circle cx="184.98" cy="843.9" r="3.75"></circle><circle cx="193.41" cy="832.7" r="3.75"></circle><circle cx="201.84" cy="820.5" r="3.75"></circle><circle cx="210.27" cy="806.5" r="3.75"></circle><circle cx="218.7" cy="789.9" r="3.75"></circle><circle cx="227.13" cy="769.3" r="3.75"></circle><circle cx="235.56" cy="743.7" r="3.75"></circle><circle cx="243.99" cy="717.3" r="3.75"></circle><circle cx="252.42" cy="690" r="3.75"></circle><circle cx="260.85" cy="662.8" r="3.75"></circle><circle cx="269.28" cy="636" r="3.75"></circle><circle cx="277.71" cy="612" r="3.75"></circle><circle cx="286.14" cy="591" r="3.75"></circle><circle cx="294.57" cy="572.1" r="3.75"></circle><circle cx="303" cy="560" r="3.75"></circle><circle cx="311.43" cy="553" r="3.75"></circle><circle cx="319.86" cy="551.2" r="3.75"></circle><circle cx="328.29" cy="554.5" r="3.75"></circle><circle cx="336.72" cy="557.1" r="3.75"></circle><circle cx="345.15" cy="559" r="3.75"></circle><circle cx="353.58" cy="561.1" r="3.75"></circle><circle cx="362.01" cy="561.5" r="3.75"></circle><circle cx="370.44" cy="565.1" r="3.75"></circle><circle cx="378.87" cy="569" r="3.75"></circle><circle cx="387.3" cy="573.8" r="3.75"></circle><circle cx="395.73" cy="579.4" r="3.75"></circle><circle cx="404.16" cy="584.7" r="3.75"></circle><circle cx="412.59" cy="590.9" r="3.75"></circle><circle cx="421.02" cy="595.6" r="3.75"></circle><circle cx="429.45" cy="598.7" r="3.75"></circle><circle cx="437.88" cy="603.2" r="3.75"></circle><circle cx="446.31" cy="606.3" r="3.75"></circle><circle cx="454.74" cy="609.3" r="3.75"></circle><circle cx="463.17" cy="613.4" r="3.75"></circle><circle cx="471.6" cy="616.1" r="3.75"></circle><circle cx="480.03" cy="620.1" r="3.75"></circle><circle cx="488.46" cy="622.2" r="3.75"></circle><circle cx="496.89" cy="625.7" r="3.75"></circle><circle cx="505.32" cy="629.3" r="3.75"></circle><circle cx="513.75" cy="630.8" r="3.75"></circle><circle cx="522.18" cy="632.4" r="3.75"></circle><circle cx="530.61" cy="634.8" r="3.75"></circle><circle cx="539.04" cy="636.5" r="3.75"></circle><circle cx="547.47" cy="637.5" r="3.75"></circle><circle cx="555.9" cy="637.9" r="3.75"></circle><circle cx="564.33" cy="637.9" r="3.75"></circle><circle cx="572.76" cy="638.5" r="3.75"></circle><circle cx="581.19" cy="636.5" r="3.75"></circle><circle cx="589.62" cy="635.3" r="3.75"></circle><circle cx="598.05" cy="633.8" r="3.75"></circle><circle cx="606.48" cy="632.4" r="3.75"></circle><circle cx="614.91" cy="629.7" r="3.75"></circle><circle cx="623.34" cy="627.7" r="3.75"></circle><circle cx="631.77" cy="625" r="3.75"></circle></g>
<path d="M128.75 881.71 L129.31 881.55 L129.87 881.37 L130.43 881.18 L130.99 880.97 L131.56 880.76 L132.12 880.53 L132.68 880.28 L133.24 880.03 L133.8 879.76 L134.36 879.49 L134.92 879.2 L135.48 878.91 L136.05 878.6 L136.61 878.29 L137.17 877.97 L137.73 877.64 L138.29 877.3 L138.85 876.96 L139.41 876.61 L139.97 876.26 L140.54 875.9 L141.1 875.54 L141.66 875.17 L142.22 874.8 L142.78 874.42 L143.34 874.05 L143.9 873.67 L144.46 873.29 L145.03 872.91 L145.59 872.52 L146.15 872.14 L146.71 871.76 L147.27 871.38 L147.83 871 L148.39 870.62 L148.95 870.24 L149.52 869.87 L150.08 869.5 L150.64 869.13 L151.2 868.77 L151.76 868.41 L152.32 868.06 L152.88 867.71 L153.44 867.37 L154.01 867.04 L154.57 866.71 L155.13 866.39 L155.69 866.08 L156.25 865.78 L156.81 865.49 L157.37 865.21 L157.93 864.93 L158.5 864.67 L159.06 864.42 L159.62 864.18 L160.18 863.96 L160.74 863.74 L161.3 863.54 L161.86 863.35 L162.42 863.18 L162.99 863.02 L163.55 862.87 L164.11 862.74 L164.67 862.62 L165.23 862.51 L165.79 862.4 L166.35 862.31 L166.91 862.22 L167.48 862.14 L168.04 862.06 L168.6 861.99 L169.16 861.91 L169.72 861.84 L170.28 861.77 L170.84 861.7 L171.4 861.62 L171.97 861.54 L172.53 861.46 L173.09 861.37 L173.65 861.27 L174.21 861.17 L174.77 861.05 L175.33 860.93 L175.89 860.79 L176.45 860.64 L177.02 860.48 L177.58 860.3 L178.14 860.1 L178.7 859.89 L179.26 859.66 L179.82 859.41 L180.38 859.14 L180.94 858.85 L181.51 858.53 L182.07 858.19 L182.63 857.82 L183.19 857.44 L183.75 857.03 L184.31 856.6 L184.87 856.15 L185.43 855.67 L186 855.18 L186.56 854.66 L187.12 854.13 L187.68 853.58 L188.24 853 L188.8 852.41 L189.36 851.8 L189.92 851.18 L190.49 850.53 L191.05 849.87 L191.61 849.2 L192.17 848.51 L192.73 847.81 L193.29 847.1 L193.85 846.38 L194.41 845.65 L194.98 844.93 L195.54 844.2 L196.1 843.47 L196.66 842.74 L197.22 842.02 L197.78 841.3 L198.34 840.59 L198.9 839.89 L199.47 839.2 L200.03 838.53 L200.59 837.87 L201.15 837.22 L201.71 836.59 L202.27 835.97 L202.83 835.36 L203.39 834.76 L203.96 834.18 L204.52 833.59 L205.08 833.02 L205.64 832.45 L206.2 831.89 L206.76 831.33 L207.32 830.77 L207.88 830.22 L208.45 829.66 L209.01 829.11 L209.57 828.56 L210.13 828 L210.69 827.44 L211.25 826.87 L211.81 826.3 L212.37 825.73 L212.94 825.14 L213.5 824.55 L214.06 823.95 L214.62 823.34 L215.18 822.71 L215.74 822.08 L216.3 821.43 L216.86 820.76 L217.43 820.08 L217.99 819.39 L218.55 818.67 L219.11 817.94 L219.67 817.19 L220.23 816.42 L220.79 815.63 L221.35 814.81 L221.91 813.97 L222.48 813.11 L223.04 812.22 L223.6 811.3 L224.16 810.36 L224.72 809.39 L225.28 808.38 L225.84 807.35 L226.4 806.29 L226.97 805.19 L227.53 804.06 L228.09 802.89 L228.65 801.69 L229.21 800.46 L229.77 799.2 L230.33 797.91 L230.89 796.59 L231.46 795.25 L232.02 793.88 L232.58 792.48 L233.14 791.07 L233.7 789.63 L234.26 788.18 L234.82 786.71 L235.38 785.22 L235.95 783.72 L236.51 782.2 L237.07 780.68 L237.63 779.14 L238.19 777.6 L238.75 776.04 L239.31 774.48 L239.87 772.92 L240.44 771.36 L241 769.78 L241.56 768.2 L242.12 766.62 L242.68 765.02 L243.24 763.41 L243.8 761.8 L244.36 760.17 L244.93 758.52 L245.49 756.86 L246.05 755.19 L246.61 753.5 L247.17 751.79 L247.73 750.06 L248.29 748.31 L248.85 746.54 L249.42 744.74 L249.98 742.93 L250.54 741.08 L251.1 739.21 L251.66 737.32 L252.22 735.4 L252.78 733.45 L253.34 731.48 L253.91 729.49 L254.47 727.48 L255.03 725.45 L255.59 723.4 L256.15 721.34 L256.71 719.27 L257.27 717.19 L257.83 715.1 L258.4 713 L258.96 710.89 L259.52 708.79 L260.08 706.68 L260.64 704.57 L261.2 702.46 L261.76 700.36 L262.32 698.26 L262.89 696.16 L263.45 694.08 L264.01 692 L264.57 689.93 L265.13 687.85 L265.69 685.78 L266.25 683.69 L266.81 681.6 L267.37 679.48 L267.94 677.36 L268.5 675.2 L269.06 673.03 L269.62 670.82 L270.18 668.58 L270.74 666.31 L271.3 663.99 L271.86 661.63 L272.43 659.23 L272.99 656.77 L273.55 654.26 L274.11 651.69 L274.67 649.05 L275.23 646.36 L275.79 643.59 L276.35 640.78 L276.92 637.93 L277.48 635.04 L278.04 632.14 L278.6 629.22 L279.16 626.31 L279.72 623.4 L280.28 620.53 L280.84 617.68 L281.41 614.88 L281.97 612.13 L282.53 609.45 L283.09 606.85 L283.65 604.33 L284.21 601.91 L284.77 599.6 L285.33 597.39 L285.9 595.28 L286.46 593.23 L287.02 591.25 L287.58 589.32 L288.14 587.43 L288.7 585.55 L289.26 583.68 L289.82 581.83 L290.39 579.98 L290.95 578.13 L291.51 576.3 L292.07 574.48 L292.63 572.66 L293.19 570.86 L293.75 569.07 L294.31 567.29 L294.88 565.52 L295.44 563.76 L296 562.02 L296.56 560.29 L297.12 558.57 L297.68 556.87 L298.24 555.18 L298.8 553.51 L299.37 551.86 L299.93 550.24 L300.49 548.65 L301.05 547.09 L301.61 545.57 L302.17 544.09 L302.73 542.66 L303.29 541.27 L303.86 539.93 L304.42 538.65 L304.98 537.43 L305.54 536.27 L306.1 535.18 L306.66 534.15 L307.22 533.2 L307.78 532.32 L308.35 531.52 L308.91 530.8 L309.47 530.14 L310.03 529.54 L310.59 529.01 L311.15 528.54 L311.71 528.13 L312.27 527.77 L312.83 527.46 L313.4 527.2 L313.96 526.98 L314.52 526.81 L315.08 526.68 L315.64 526.58 L316.2 526.52 L316.76 526.48 L317.32 526.48 L317.89 526.5 L318.45 526.54 L319.01 526.6 L319.57 526.68 L320.13 526.77 L320.69 526.88 L321.25 527.01 L321.81 527.16 L322.38 527.31 L322.94 527.48 L323.5 527.67 L324.06 527.86 L324.62 528.07 L325.18 528.29 L325.74 528.52 L326.3 528.75 L326.87 528.99 L327.43 529.24 L327.99 529.5 L328.55 529.76 L329.11 530.03 L329.67 530.3 L330.23 530.57 L330.79 530.85 L331.36 531.12 L331.92 531.4 L332.48 531.68 L333.04 531.95 L333.6 532.22 L334.16 532.49 L334.72 532.76 L335.28 533.02 L335.85 533.28 L336.41 533.53 L336.97 533.78 L337.53 534.01 L338.09 534.24 L338.65 534.46 L339.21 534.67 L339.77 534.87 L340.34 535.05 L340.9 535.22 L341.46 535.39 L342.02 535.54 L342.58 535.68 L343.14 535.81 L343.7 535.93 L344.26 536.04 L344.83 536.15 L345.39 536.24 L345.95 536.33 L346.51 536.42 L347.07 536.49 L347.63 536.56 L348.19 536.63 L348.75 536.69 L349.32 536.75 L349.88 536.81 L350.44 536.86 L351 536.91 L351.56 536.96 L352.12 537.01 L352.68 537.06 L353.24 537.11 L353.81 537.16 L354.37 537.21 L354.93 537.27 L355.49 537.32 L356.05 537.38 L356.61 537.45 L357.17 537.52 L357.73 537.59 L358.29 537.67 L358.86 537.75 L359.42 537.84 L359.98 537.94 L360.54 538.05 L361.1 538.16 L361.66 538.29 L362.22 538.42 L362.78 538.56 L363.35 538.71 L363.91 538.88 L364.47 539.05 L365.03 539.23 L365.59 539.42 L366.15 539.62 L366.71 539.83 L367.27 540.05 L367.84 540.28 L368.4 540.51 L368.96 540.76 L369.52 541.02 L370.08 541.28 L370.64 541.56 L371.2 541.84 L371.76 542.13 L372.33 542.43 L372.89 542.74 L373.45 543.05 L374.01 543.38 L374.57 543.71 L375.13 544.06 L375.69 544.41 L376.25 544.77 L376.82 545.13 L377.38 545.51 L377.94 545.89 L378.5 546.28 L379.06 546.68 L379.62 547.09 L380.18 547.5 L380.74 547.93 L381.31 548.36 L381.87 548.8 L382.43 549.24 L382.99 549.69 L383.55 550.15 L384.11 550.62 L384.67 551.1 L385.23 551.58 L385.8 552.07 L386.36 552.57 L386.92 553.07 L387.48 553.58 L388.04 554.1 L388.6 554.63 L389.16 555.16 L389.72 555.71 L390.29 556.26 L390.85 556.82 L391.41 557.38 L391.97 557.96 L392.53 558.54 L393.09 559.13 L393.65 559.72 L394.21 560.33 L394.78 560.94 L395.34 561.56 L395.9 562.19 L396.46 562.83 L397.02 563.47 L397.58 564.11 L398.14 564.76 L398.7 565.41 L399.27 566.07 L399.83 566.72 L400.39 567.38 L400.95 568.03 L401.51 568.69 L402.07 569.34 L402.63 569.99 L403.19 570.63 L403.76 571.27 L404.32 571.91 L404.88 572.54 L405.44 573.16 L406 573.77 L406.56 574.37 L407.12 574.97 L407.68 575.56 L408.24 576.14 L408.81 576.71 L409.37 577.27 L409.93 577.83 L410.49 578.38 L411.05 578.92 L411.61 579.45 L412.17 579.98 L412.73 580.5 L413.3 581.01 L413.86 581.52 L414.42 582.02 L414.98 582.51 L415.54 583 L416.1 583.48 L416.66 583.96 L417.22 584.43 L417.79 584.9 L418.35 585.36 L418.91 585.81 L419.47 586.26 L420.03 586.7 L420.59 587.14 L421.15 587.58 L421.71 588.01 L422.28 588.44 L422.84 588.86 L423.4 589.28 L423.96 589.69 L424.52 590.1 L425.08 590.51 L425.64 590.91 L426.2 591.31 L426.77 591.71 L427.33 592.1 L427.89 592.5 L428.45 592.89 L429.01 593.27 L429.57 593.66 L430.13 594.04 L430.69 594.42 L431.26 594.8 L431.82 595.18 L432.38 595.55 L432.94 595.93 L433.5 596.3 L434.06 596.67 L434.62 597.04 L435.18 597.4 L435.75 597.77 L436.31 598.13 L436.87 598.49 L437.43 598.85 L437.99 599.21 L438.55 599.57 L439.11 599.92 L439.67 600.27 L440.24 600.63 L440.8 600.97 L441.36 601.32 L441.92 601.67 L442.48 602.01 L443.04 602.35 L443.6 602.69 L444.16 603.03 L444.73 603.37 L445.29 603.7 L445.85 604.04 L446.41 604.37 L446.97 604.7 L447.53 605.03 L448.09 605.35 L448.65 605.68 L449.22 606 L449.78 606.32 L450.34 606.64 L450.9 606.95 L451.46 607.27 L452.02 607.58 L452.58 607.89 L453.14 608.2 L453.7 608.51 L454.27 608.81 L454.83 609.12 L455.39 609.42 L455.95 609.72 L456.51 610.02 L457.07 610.31 L457.63 610.61 L458.19 610.9 L458.76 611.19 L459.32 611.48 L459.88 611.76 L460.44 612.05 L461 612.33 L461.56 612.61 L462.12 612.89 L462.68 613.17 L463.25 613.44 L463.81 613.71 L464.37 613.99 L464.93 614.25 L465.49 614.52 L466.05 614.79 L466.61 615.05 L467.17 615.31 L467.74 615.57 L468.3 615.83 L468.86 616.08 L469.42 616.34 L469.98 616.59 L470.54 616.84 L471.1 617.08 L471.66 617.33 L472.23 617.57 L472.79 617.81 L473.35 618.05 L473.91 618.29 L474.47 618.52 L475.03 618.76 L475.59 618.99 L476.15 619.22 L476.72 619.45 L477.28 619.68 L477.84 619.91 L478.4 620.13 L478.96 620.35 L479.52 620.58 L480.08 620.8 L480.64 621.02 L481.21 621.24 L481.77 621.46 L482.33 621.67 L482.89 621.89 L483.45 622.11 L484.01 622.32 L484.57 622.54 L485.13 622.75 L485.7 622.97 L486.26 623.18 L486.82 623.39 L487.38 623.61 L487.94 623.82 L488.5 624.03 L489.06 624.24 L489.62 624.46 L490.19 624.67 L490.75 624.88 L491.31 625.1 L491.87 625.31 L492.43 625.52 L492.99 625.74 L493.55 625.95 L494.11 626.17 L494.68 626.38 L495.24 626.6 L495.8 626.82 L496.36 627.03 L496.92 627.25 L497.48 627.47 L498.04 627.69 L498.6 627.91 L499.16 628.14 L499.73 628.36 L500.29 628.59 L500.85 628.81 L501.41 629.04 L501.97 629.27 L502.53 629.5 L503.09 629.73 L503.65 629.97 L504.22 630.2 L504.78 630.44 L505.34 630.68 L505.9 630.92 L506.46 631.16 L507.02 631.41 L507.58 631.66 L508.14 631.91 L508.71 632.16 L509.27 632.41 L509.83 632.67 L510.39 632.93 L510.95 633.19 L511.51 633.45 L512.07 633.72 L512.63 633.99 L513.2 634.26 L513.76 634.54 L514.32 634.82 L514.88 635.1 L515.44 635.38 L516 635.66 L516.56 635.94 L517.12 636.23 L517.69 636.52 L518.25 636.8 L518.81 637.09 L519.37 637.38 L519.93 637.66 L520.49 637.95 L521.05 638.24 L521.61 638.52 L522.18 638.81 L522.74 639.09 L523.3 639.37 L523.86 639.66 L524.42 639.93 L524.98 640.21 L525.54 640.48 L526.1 640.75 L526.67 641.02 L527.23 641.29 L527.79 641.55 L528.35 641.8 L528.91 642.06 L529.47 642.31 L530.03 642.55 L530.59 642.79 L531.16 643.02 L531.72 643.25 L532.28 643.48 L532.84 643.7 L533.4 643.91 L533.96 644.12 L534.52 644.32 L535.08 644.51 L535.65 644.7 L536.21 644.88 L536.77 645.06 L537.33 645.23 L537.89 645.4 L538.45 645.56 L539.01 645.72 L539.57 645.87 L540.14 646.02 L540.7 646.16 L541.26 646.3 L541.82 646.43 L542.38 646.56 L542.94 646.69 L543.5 646.81 L544.06 646.92 L544.62 647.04 L545.19 647.15 L545.75 647.25 L546.31 647.35 L546.87 647.45 L547.43 647.55 L547.99 647.64 L548.55 647.73 L549.11 647.81 L549.68 647.9 L550.24 647.98 L550.8 648.05 L551.36 648.13 L551.92 648.2 L552.48 648.27 L553.04 648.34 L553.6 648.4 L554.17 648.47 L554.73 648.53 L555.29 648.59 L555.85 648.65 L556.41 648.7 L556.97 648.75 L557.53 648.8 L558.09 648.85 L558.66 648.9 L559.22 648.94 L559.78 648.99 L560.34 649.03 L560.9 649.06 L561.46 649.1 L562.02 649.13 L562.58 649.16 L563.15 649.19 L563.71 649.21 L564.27 649.23 L564.83 649.25 L565.39 649.27 L565.95 649.29 L566.51 649.3 L567.07 649.31 L567.64 649.31 L568.2 649.31 L568.76 649.32 L569.32 649.31 L569.88 649.31 L570.44 649.3 L571 649.29 L571.56 649.27 L572.13 649.26 L572.69 649.24 L573.25 649.21 L573.81 649.19 L574.37 649.16 L574.93 649.12 L575.49 649.09 L576.05 649.05 L576.62 649 L577.18 648.96 L577.74 648.91 L578.3 648.86 L578.86 648.8 L579.42 648.74 L579.98 648.68 L580.54 648.61 L581.11 648.54 L581.67 648.46 L582.23 648.39 L582.79 648.31 L583.35 648.22 L583.91 648.13 L584.47 648.04 L585.03 647.94 L585.6 647.84 L586.16 647.74 L586.72 647.63 L587.28 647.52 L587.84 647.4 L588.4 647.29 L588.96 647.16 L589.52 647.03 L590.08 646.9 L590.65 646.77 L591.21 646.63 L591.77 646.48 L592.33 646.33 L592.89 646.18 L593.45 646.02 L594.01 645.86 L594.57 645.7 L595.14 645.53 L595.7 645.35 L596.26 645.18 L596.82 644.99 L597.38 644.81 L597.94 644.62 L598.5 644.43 L599.06 644.24 L599.63 644.05 L600.19 643.85 L600.75 643.66 L601.31 643.46 L601.87 643.26 L602.43 643.06 L602.99 642.87 L603.55 642.67 L604.12 642.47 L604.68 642.27 L605.24 642.08 L605.8 641.89 L606.36 641.69 L606.92 641.5 L607.48 641.32 L608.04 641.13 L608.61 640.95 L609.17 640.77 L609.73 640.6 L610.29 640.43 L610.85 640.26 L611.41 640.1 L611.97 639.94 L612.53 639.79 L613.1 639.65 L613.66 639.51 L614.22 639.37 L614.78 639.25 L615.34 639.13 L615.9 639.01 L616.46 638.9 L617.02 638.8 L617.59 638.69 L618.15 638.59 L618.71 638.48 L619.27 638.38 L619.83 638.27 L620.39 638.16 L620.95 638.05 L621.51 637.92 L622.08 637.79 L622.64 637.66 L623.2 637.51 L623.76 637.35 L624.32 637.18 L624.88 636.99 L625.44 636.8 L626 636.58 L626.57 636.35 L627.13 636.1 L627.69 635.83 L628.25 635.54 L628.81 635.23 L629.37 634.89 L629.93 634.53 L630.49 634.15 L631.06 633.73 L631.62 633.3 L632.18 632.83 L632.74 632.33 L633.3 631.8" fill="none" stroke="#7d0a82" stroke-width="4" stroke-linejoin="round" stroke-linecap="round"></path>
</g>
<rect x="129" y="498" width="505" height="386.5" fill="none" stroke="#141414" stroke-width="2.7"></rect>
<path d="M129 884.5v10M129 498v10M213.17 884.5v10M213.17 498v10M297.33 884.5v10M297.33 498v10M381.5 884.5v10M381.5 498v10M465.67 884.5v10M465.67 498v10M549.83 884.5v10M549.83 498v10M634 884.5v10M634 498v10M171.08 884.5v5M171.08 498v5M255.25 884.5v5M255.25 498v5M339.42 884.5v5M339.42 498v5M423.58 884.5v5M423.58 498v5M507.75 884.5v5M507.75 498v5M591.92 884.5v5M591.92 498v5M129 884.5h-10M634 884.5h-10M129 829.29h-10M634 829.29h-10M129 774.07h-10M634 774.07h-10M129 718.86h-10M634 718.86h-10M129 663.64h-10M634 663.64h-10M129 608.43h-10M634 608.43h-10M129 553.22h-10M634 553.22h-10M129 498h-10M634 498h-10M129 856.89h-5M634 856.89h-5M129 801.68h-5M634 801.68h-5M129 746.47h-5M634 746.47h-5M129 691.25h-5M634 691.25h-5M129 636.04h-5M634 636.04h-5M129 580.82h-5M634 580.82h-5M129 525.61h-5M634 525.61h-5" stroke="#141414" stroke-width="2.7" fill="none"></path>
<g transform="translate(129 923.5) scale(1 1.04)"><text font-size="29.3" text-anchor="middle">7110</text><rect x="-14.36" width="6.39" y="-3.25" height="4.25" fill="#fff"></rect><rect x="-5.33" width="5.95" y="-3.25" height="4.25" fill="#fff"></rect><rect x="-0.25" width="6.39" y="-3.25" height="4.25" fill="#fff"></rect><rect x="8.78" width="5.95" y="-3.25" height="4.25" fill="#fff"></rect></g>
<g transform="translate(213.17 923.5) scale(1 1.04)"><text font-size="29.3" text-anchor="middle">7120</text><rect x="-15.45" width="6.39" y="-3.25" height="4.25" fill="#fff"></rect><rect x="-6.41" width="5.95" y="-3.25" height="4.25" fill="#fff"></rect></g>
<g transform="translate(297.33 923.5) scale(1 1.04)"><text font-size="29.3" text-anchor="middle">7130</text><rect x="-15.45" width="6.39" y="-3.25" height="4.25" fill="#fff"></rect><rect x="-6.41" width="5.95" y="-3.25" height="4.25" fill="#fff"></rect></g>
<g transform="translate(381.5 923.5) scale(1 1.04)"><text font-size="29.3" text-anchor="middle">7140</text><rect x="-15.45" width="6.39" y="-3.25" height="4.25" fill="#fff"></rect><rect x="-6.41" width="5.95" y="-3.25" height="4.25" fill="#fff"></rect></g>
<g transform="translate(465.67 923.5) scale(1 1.04)"><text font-size="29.3" text-anchor="middle">7150</text><rect x="-15.45" width="6.39" y="-3.25" height="4.25" fill="#fff"></rect><rect x="-6.41" width="5.95" y="-3.25" height="4.25" fill="#fff"></rect></g>
<g transform="translate(549.83 923.5) scale(1 1.04)"><text font-size="29.3" text-anchor="middle">7160</text><rect x="-15.45" width="6.39" y="-3.25" height="4.25" fill="#fff"></rect><rect x="-6.41" width="5.95" y="-3.25" height="4.25" fill="#fff"></rect></g>
<g transform="translate(634 923.5) scale(1 1.04)"><text font-size="29.3" text-anchor="middle">7170</text><rect x="-15.45" width="6.39" y="-3.25" height="4.25" fill="#fff"></rect><rect x="-6.41" width="5.95" y="-3.25" height="4.25" fill="#fff"></rect></g>
<g transform="translate(112.5 892.5) scale(1 1.04)"><text font-size="29.3" text-anchor="end">0,0</text></g>
<g transform="translate(112.5 837.29) scale(1 1.04)"><text font-size="29.3" text-anchor="end">0,2</text></g>
<g transform="translate(112.5 782.07) scale(1 1.04)"><text font-size="29.3" text-anchor="end">0,4</text></g>
<g transform="translate(112.5 726.86) scale(1 1.04)"><text font-size="29.3" text-anchor="end">0,6</text></g>
<g transform="translate(112.5 671.64) scale(1 1.04)"><text font-size="29.3" text-anchor="end">0,8</text></g>
<g transform="translate(112.5 616.43) scale(1 1.04)"><text font-size="29.3" text-anchor="end">1,0</text><rect x="-39.86" width="6.39" y="-3.25" height="4.25" fill="#fff"></rect><rect x="-30.83" width="5.95" y="-3.25" height="4.25" fill="#fff"></rect></g>
<g transform="translate(112.5 561.22) scale(1 1.04)"><text font-size="29.3" text-anchor="end">1,2</text><rect x="-39.86" width="6.39" y="-3.25" height="4.25" fill="#fff"></rect><rect x="-30.83" width="5.95" y="-3.25" height="4.25" fill="#fff"></rect></g>
<g transform="translate(112.5 506) scale(1 1.04)"><text font-size="29.3" text-anchor="end">1,4</text><rect x="-39.86" width="6.39" y="-3.25" height="4.25" fill="#fff"></rect><rect x="-30.83" width="5.95" y="-3.25" height="4.25" fill="#fff"></rect></g>
<clipPath id="clipd"><rect x="766.5" y="498" width="505" height="386.5"></rect></clipPath>
<g clip-path="url(#clipd)">
<g fill="none" stroke="#9c44a6" stroke-width="1.7"><circle cx="766.7" cy="882" r="3.75"></circle><circle cx="772.9" cy="880.1" r="3.75"></circle><circle cx="779.1" cy="876.8" r="3.75"></circle><circle cx="785.3" cy="875.9" r="3.75"></circle><circle cx="791.5" cy="877" r="3.75"></circle><circle cx="797.7" cy="879.3" r="3.75"></circle><circle cx="803.9" cy="877.3" r="3.75"></circle><circle cx="810.1" cy="872.3" r="3.75"></circle><circle cx="816.3" cy="867.9" r="3.75"></circle><circle cx="822.5" cy="866.2" r="3.75"></circle><circle cx="828.7" cy="866" r="3.75"></circle><circle cx="834.9" cy="866.2" r="3.75"></circle><circle cx="841.1" cy="863.5" r="3.75"></circle><circle cx="847.3" cy="854.6" r="3.75"></circle><circle cx="853.5" cy="841" r="3.75"></circle><circle cx="859.7" cy="823.6" r="3.75"></circle><circle cx="865.9" cy="804.2" r="3.75"></circle><circle cx="872.1" cy="781.4" r="3.75"></circle><circle cx="878.3" cy="756" r="3.75"></circle><circle cx="884.5" cy="728.2" r="3.75"></circle><circle cx="890.7" cy="699.6" r="3.75"></circle><circle cx="896.9" cy="672.5" r="3.75"></circle><circle cx="903.1" cy="650.3" r="3.75"></circle><circle cx="909.3" cy="637.3" r="3.75"></circle><circle cx="915.5" cy="635.8" r="3.75"></circle><circle cx="921.7" cy="646.8" r="3.75"></circle><circle cx="927.9" cy="669.8" r="3.75"></circle><circle cx="934.1" cy="702.8" r="3.75"></circle><circle cx="940.3" cy="742.8" r="3.75"></circle><circle cx="946.5" cy="783.2" r="3.75"></circle><circle cx="952.7" cy="815.7" r="3.75"></circle><circle cx="958.9" cy="826.8" r="3.75"></circle><circle cx="965.1" cy="818.5" r="3.75"></circle><circle cx="971.3" cy="809.5" r="3.75"></circle><circle cx="977.5" cy="805.2" r="3.75"></circle><circle cx="983.7" cy="812" r="3.75"></circle><circle cx="989.9" cy="821.9" r="3.75"></circle><circle cx="996.1" cy="838.3" r="3.75"></circle><circle cx="1002.3" cy="856" r="3.75"></circle><circle cx="1008.5" cy="868.1" r="3.75"></circle><circle cx="1014.7" cy="867.4" r="3.75"></circle><circle cx="1020.9" cy="860.6" r="3.75"></circle><circle cx="1027.1" cy="857.5" r="3.75"></circle><circle cx="1033.3" cy="856.5" r="3.75"></circle><circle cx="1039.5" cy="859.8" r="3.75"></circle><circle cx="1045.7" cy="864.4" r="3.75"></circle><circle cx="1051.9" cy="869.7" r="3.75"></circle><circle cx="1058.1" cy="872.7" r="3.75"></circle><circle cx="1064.3" cy="872.7" r="3.75"></circle><circle cx="1070.5" cy="871.9" r="3.75"></circle><circle cx="1076.7" cy="871.2" r="3.75"></circle><circle cx="1082.9" cy="870.7" r="3.75"></circle><circle cx="1089.1" cy="870.7" r="3.75"></circle><circle cx="1095.3" cy="870.7" r="3.75"></circle><circle cx="1101.5" cy="870.5" r="3.75"></circle><circle cx="1107.7" cy="869.7" r="3.75"></circle><circle cx="1113.9" cy="868.7" r="3.75"></circle><circle cx="1120.1" cy="867.2" r="3.75"></circle><circle cx="1126.3" cy="865.3" r="3.75"></circle><circle cx="1132.5" cy="863.8" r="3.75"></circle><circle cx="1138.7" cy="862.7" r="3.75"></circle><circle cx="1144.9" cy="863.3" r="3.75"></circle><circle cx="1151.1" cy="865.3" r="3.75"></circle><circle cx="1157.3" cy="867.8" r="3.75"></circle><circle cx="1163.5" cy="872" r="3.75"></circle><circle cx="1169.7" cy="877.1" r="3.75"></circle><circle cx="1175.9" cy="882.3" r="3.75"></circle><circle cx="1182.1" cy="880.1" r="3.75"></circle><circle cx="1188.3" cy="876" r="3.75"></circle><circle cx="1194.5" cy="872.7" r="3.75"></circle><circle cx="1200.7" cy="869.7" r="3.75"></circle><circle cx="1206.9" cy="867.8" r="3.75"></circle><circle cx="1213.1" cy="867.5" r="3.75"></circle><circle cx="1219.3" cy="867.8" r="3.75"></circle><circle cx="1225.5" cy="869.7" r="3.75"></circle><circle cx="1231.7" cy="872" r="3.75"></circle><circle cx="1237.9" cy="874.6" r="3.75"></circle><circle cx="1244.1" cy="876.4" r="3.75"></circle><circle cx="1250.3" cy="877.9" r="3.75"></circle><circle cx="1256.5" cy="879.4" r="3.75"></circle><circle cx="1262.7" cy="880.1" r="3.75"></circle><circle cx="1268.9" cy="879.4" r="3.75"></circle></g>
<path d="M766.8 879.5 L767.36 879.14 L767.92 878.77 L768.48 878.37 L769.04 877.96 L769.6 877.54 L770.17 877.1 L770.73 876.66 L771.29 876.21 L771.85 875.76 L772.41 875.31 L772.97 874.85 L773.53 874.4 L774.09 873.96 L774.65 873.52 L775.21 873.09 L775.78 872.67 L776.34 872.27 L776.9 871.88 L777.46 871.52 L778.02 871.17 L778.58 870.85 L779.14 870.55 L779.7 870.29 L780.26 870.05 L780.82 869.84 L781.38 869.67 L781.95 869.54 L782.51 869.45 L783.07 869.4 L783.63 869.39 L784.19 869.43 L784.75 869.52 L785.31 869.65 L785.87 869.81 L786.43 870.01 L786.99 870.25 L787.56 870.51 L788.12 870.79 L788.68 871.09 L789.24 871.4 L789.8 871.73 L790.36 872.06 L790.92 872.39 L791.48 872.73 L792.04 873.05 L792.6 873.37 L793.16 873.68 L793.73 873.96 L794.29 874.23 L794.85 874.47 L795.41 874.68 L795.97 874.86 L796.53 875 L797.09 875.09 L797.65 875.15 L798.21 875.15 L798.77 875.1 L799.34 874.99 L799.9 874.82 L800.46 874.59 L801.02 874.3 L801.58 873.96 L802.14 873.57 L802.7 873.13 L803.26 872.65 L803.82 872.13 L804.38 871.57 L804.95 870.99 L805.51 870.37 L806.07 869.74 L806.63 869.08 L807.19 868.41 L807.75 867.72 L808.31 867.03 L808.87 866.33 L809.43 865.63 L809.99 864.93 L810.55 864.24 L811.12 863.57 L811.68 862.9 L812.24 862.25 L812.8 861.63 L813.36 861.03 L813.92 860.46 L814.48 859.92 L815.04 859.42 L815.6 858.97 L816.16 858.55 L816.73 858.17 L817.29 857.83 L817.85 857.52 L818.41 857.25 L818.97 857.01 L819.53 856.8 L820.09 856.61 L820.65 856.46 L821.21 856.33 L821.77 856.22 L822.33 856.14 L822.9 856.08 L823.46 856.03 L824.02 856 L824.58 855.99 L825.14 855.99 L825.7 856 L826.26 856.02 L826.82 856.05 L827.38 856.09 L827.94 856.13 L828.51 856.17 L829.07 856.21 L829.63 856.26 L830.19 856.3 L830.75 856.33 L831.31 856.35 L831.87 856.35 L832.43 856.34 L832.99 856.31 L833.55 856.26 L834.11 856.18 L834.68 856.07 L835.24 855.93 L835.8 855.76 L836.36 855.54 L836.92 855.29 L837.48 854.99 L838.04 854.65 L838.6 854.25 L839.16 853.8 L839.72 853.3 L840.29 852.73 L840.85 852.1 L841.41 851.41 L841.97 850.65 L842.53 849.82 L843.09 848.91 L843.65 847.93 L844.21 846.86 L844.77 845.71 L845.33 844.48 L845.89 843.17 L846.46 841.78 L847.02 840.33 L847.58 838.8 L848.14 837.21 L848.7 835.57 L849.26 833.87 L849.82 832.12 L850.38 830.32 L850.94 828.48 L851.5 826.6 L852.07 824.69 L852.63 822.75 L853.19 820.78 L853.75 818.79 L854.31 816.78 L854.87 814.75 L855.43 812.72 L855.99 810.68 L856.55 808.64 L857.11 806.6 L857.67 804.57 L858.24 802.55 L858.8 800.54 L859.36 798.55 L859.92 796.59 L860.48 794.65 L861.04 792.73 L861.6 790.84 L862.16 788.94 L862.72 787.04 L863.28 785.13 L863.85 783.19 L864.41 781.21 L864.97 779.18 L865.53 777.09 L866.09 774.94 L866.65 772.7 L867.21 770.38 L867.77 767.95 L868.33 765.41 L868.89 762.75 L869.46 759.96 L870.02 757.02 L870.58 753.93 L871.14 750.67 L871.7 747.24 L872.26 743.62 L872.82 739.81 L873.38 735.81 L873.94 731.7 L874.5 727.54 L875.06 723.4 L875.63 719.35 L876.19 715.44 L876.75 711.63 L877.31 707.88 L877.87 704.17 L878.43 700.46 L878.99 696.71 L879.55 692.92 L880.11 689.11 L880.67 685.26 L881.24 681.39 L881.8 677.5 L882.36 673.59 L882.92 669.67 L883.48 665.74 L884.04 661.8 L884.6 657.85 L885.16 653.91 L885.72 649.97 L886.28 646.03 L886.84 642.11 L887.41 638.21 L887.97 634.32 L888.53 630.45 L889.09 626.6 L889.65 622.79 L890.21 619.01 L890.77 615.26 L891.33 611.55 L891.89 607.89 L892.45 604.27 L893.02 600.71 L893.58 597.19 L894.14 593.74 L894.7 590.34 L895.26 587.01 L895.82 583.74 L896.38 580.55 L896.94 577.43 L897.5 574.4 L898.06 571.44 L898.62 568.57 L899.19 565.79 L899.75 563.1 L900.31 560.51 L900.87 558.01 L901.43 555.63 L901.99 553.35 L902.55 551.18 L903.11 549.12 L903.67 547.18 L904.23 545.37 L904.8 543.68 L905.36 542.12 L905.92 540.69 L906.48 539.39 L907.04 538.24 L907.6 537.23 L908.16 536.37 L908.72 535.65 L909.28 535.08 L909.84 534.66 L910.4 534.37 L910.97 534.22 L911.53 534.2 L912.09 534.32 L912.65 534.56 L913.21 534.93 L913.77 535.42 L914.33 536.03 L914.89 536.76 L915.45 537.59 L916.01 538.54 L916.58 539.61 L917.14 540.79 L917.7 542.08 L918.26 543.5 L918.82 545.04 L919.38 546.71 L919.94 548.5 L920.5 550.43 L921.06 552.49 L921.62 554.69 L922.18 557.03 L922.75 559.51 L923.31 562.13 L923.87 564.91 L924.43 567.84 L924.99 570.92 L925.55 574.17 L926.11 577.59 L926.67 581.17 L927.23 584.92 L927.79 588.84 L928.36 592.9 L928.92 597.09 L929.48 601.41 L930.04 605.83 L930.6 610.34 L931.16 614.92 L931.72 619.58 L932.28 624.28 L932.84 629.02 L933.4 633.78 L933.97 638.54 L934.53 643.31 L935.09 648.06 L935.65 652.79 L936.21 657.5 L936.77 662.19 L937.33 666.85 L937.89 671.48 L938.45 676.07 L939.01 680.63 L939.57 685.14 L940.14 689.6 L940.7 694.01 L941.26 698.37 L941.82 702.67 L942.38 706.95 L942.94 711.26 L943.5 715.64 L944.06 720.15 L944.62 724.82 L945.18 729.63 L945.75 734.37 L946.31 738.85 L946.87 743.07 L947.43 747.07 L947.99 750.94 L948.55 754.72 L949.11 758.47 L949.67 762.26 L950.23 766.15 L950.79 770.19 L951.35 774.45 L951.92 778.97 L952.48 783.68 L953.04 788.43 L953.6 793.1 L954.16 797.53 L954.72 801.59 L955.28 805.15 L955.84 808.1 L956.4 810.5 L956.96 812.43 L957.53 813.95 L958.09 815.14 L958.65 816.08 L959.21 816.82 L959.77 817.46 L960.33 818.03 L960.89 818.54 L961.45 818.98 L962.01 819.34 L962.57 819.61 L963.13 819.77 L963.7 819.83 L964.26 819.76 L964.82 819.56 L965.38 819.25 L965.94 818.84 L966.5 818.35 L967.06 817.78 L967.62 817.17 L968.18 816.53 L968.74 815.87 L969.31 815.2 L969.87 814.56 L970.43 813.94 L970.99 813.37 L971.55 812.85 L972.11 812.37 L972.67 811.93 L973.23 811.53 L973.79 811.17 L974.35 810.85 L974.91 810.57 L975.48 810.32 L976.04 810.11 L976.6 809.94 L977.16 809.8 L977.72 809.69 L978.28 809.62 L978.84 809.57 L979.4 809.56 L979.96 809.57 L980.52 809.61 L981.09 809.68 L981.65 809.77 L982.21 809.89 L982.77 810.03 L983.33 810.19 L983.89 810.38 L984.45 810.58 L985.01 810.8 L985.57 811.04 L986.13 811.3 L986.69 811.58 L987.26 811.87 L987.82 812.17 L988.38 812.49 L988.94 812.81 L989.5 813.15 L990.06 813.5 L990.62 813.86 L991.18 814.22 L991.74 814.59 L992.3 814.97 L992.87 815.35 L993.43 815.73 L993.99 816.12 L994.55 816.51 L995.11 816.91 L995.67 817.31 L996.23 817.71 L996.79 818.12 L997.35 818.54 L997.91 818.96 L998.48 819.39 L999.04 819.82 L999.6 820.26 L1000.16 820.71 L1000.72 821.17 L1001.28 821.64 L1001.84 822.11 L1002.4 822.6 L1002.96 823.1 L1003.52 823.6 L1004.08 824.12 L1004.65 824.65 L1005.21 825.18 L1005.77 825.74 L1006.33 826.3 L1006.89 826.87 L1007.45 827.46 L1008.01 828.07 L1008.57 828.68 L1009.13 829.32 L1009.69 829.96 L1010.26 830.62 L1010.82 831.3 L1011.38 832 L1011.94 832.7 L1012.5 833.43 L1013.06 834.17 L1013.62 834.92 L1014.18 835.69 L1014.74 836.46 L1015.3 837.26 L1015.86 838.06 L1016.43 838.87 L1016.99 839.69 L1017.55 840.53 L1018.11 841.37 L1018.67 842.22 L1019.23 843.08 L1019.79 843.94 L1020.35 844.82 L1020.91 845.69 L1021.47 846.58 L1022.04 847.47 L1022.6 848.36 L1023.16 849.26 L1023.72 850.16 L1024.28 851.06 L1024.84 851.96 L1025.4 852.87 L1025.96 853.77 L1026.52 854.68 L1027.08 855.59 L1027.64 856.49 L1028.21 857.39 L1028.77 858.28 L1029.33 859.15 L1029.89 860 L1030.45 860.82 L1031.01 861.6 L1031.57 862.34 L1032.13 863.04 L1032.69 863.69 L1033.25 864.27 L1033.82 864.8 L1034.38 865.27 L1034.94 865.69 L1035.5 866.05 L1036.06 866.37 L1036.62 866.64 L1037.18 866.86 L1037.74 867.04 L1038.3 867.17 L1038.86 867.27 L1039.42 867.33 L1039.99 867.35 L1040.55 867.34 L1041.11 867.29 L1041.67 867.22 L1042.23 867.12 L1042.79 866.99 L1043.35 866.84 L1043.91 866.67 L1044.47 866.48 L1045.03 866.27 L1045.6 866.05 L1046.16 865.81 L1046.72 865.56 L1047.28 865.3 L1047.84 865.04 L1048.4 864.77 L1048.96 864.49 L1049.52 864.22 L1050.08 863.94 L1050.64 863.67 L1051.21 863.39 L1051.77 863.12 L1052.33 862.85 L1052.89 862.59 L1053.45 862.32 L1054.01 862.06 L1054.57 861.81 L1055.13 861.56 L1055.69 861.31 L1056.25 861.08 L1056.81 860.85 L1057.38 860.62 L1057.94 860.41 L1058.5 860.2 L1059.06 859.99 L1059.62 859.8 L1060.18 859.61 L1060.74 859.43 L1061.3 859.25 L1061.86 859.08 L1062.42 858.91 L1062.99 858.75 L1063.55 858.6 L1064.11 858.45 L1064.67 858.3 L1065.23 858.16 L1065.79 858.03 L1066.35 857.9 L1066.91 857.77 L1067.47 857.65 L1068.03 857.52 L1068.59 857.41 L1069.16 857.29 L1069.72 857.18 L1070.28 857.07 L1070.84 856.97 L1071.4 856.87 L1071.96 856.76 L1072.52 856.67 L1073.08 856.57 L1073.64 856.47 L1074.2 856.38 L1074.77 856.28 L1075.33 856.19 L1075.89 856.1 L1076.45 856.01 L1077.01 855.92 L1077.57 855.82 L1078.13 855.73 L1078.69 855.64 L1079.25 855.55 L1079.81 855.46 L1080.37 855.36 L1080.94 855.27 L1081.5 855.17 L1082.06 855.07 L1082.62 854.97 L1083.18 854.87 L1083.74 854.76 L1084.3 854.66 L1084.86 854.55 L1085.42 854.43 L1085.98 854.32 L1086.55 854.2 L1087.11 854.08 L1087.67 853.95 L1088.23 853.82 L1088.79 853.69 L1089.35 853.55 L1089.91 853.42 L1090.47 853.28 L1091.03 853.13 L1091.59 852.99 L1092.15 852.84 L1092.72 852.7 L1093.28 852.55 L1093.84 852.41 L1094.4 852.26 L1094.96 852.12 L1095.52 851.97 L1096.08 851.83 L1096.64 851.69 L1097.2 851.55 L1097.76 851.42 L1098.33 851.29 L1098.89 851.16 L1099.45 851.03 L1100.01 850.91 L1100.57 850.8 L1101.13 850.69 L1101.69 850.58 L1102.25 850.48 L1102.81 850.39 L1103.37 850.3 L1103.93 850.22 L1104.5 850.15 L1105.06 850.08 L1105.62 850.02 L1106.18 849.97 L1106.74 849.93 L1107.3 849.9 L1107.86 849.88 L1108.42 849.87 L1108.98 849.87 L1109.54 849.88 L1110.11 849.89 L1110.67 849.93 L1111.23 849.97 L1111.79 850.02 L1112.35 850.09 L1112.91 850.16 L1113.47 850.24 L1114.03 850.34 L1114.59 850.44 L1115.15 850.55 L1115.72 850.66 L1116.28 850.79 L1116.84 850.92 L1117.4 851.05 L1117.96 851.19 L1118.52 851.34 L1119.08 851.49 L1119.64 851.65 L1120.2 851.81 L1120.76 851.97 L1121.32 852.13 L1121.89 852.3 L1122.45 852.47 L1123.01 852.64 L1123.57 852.81 L1124.13 852.98 L1124.69 853.15 L1125.25 853.32 L1125.81 853.49 L1126.37 853.65 L1126.93 853.82 L1127.5 853.98 L1128.06 854.13 L1128.62 854.29 L1129.18 854.44 L1129.74 854.58 L1130.3 854.72 L1130.86 854.85 L1131.42 854.98 L1131.98 855.1 L1132.54 855.21 L1133.1 855.32 L1133.67 855.42 L1134.23 855.5 L1134.79 855.58 L1135.35 855.65 L1135.91 855.71 L1136.47 855.76 L1137.03 855.8 L1137.59 855.83 L1138.15 855.84 L1138.71 855.86 L1139.28 855.86 L1139.84 855.85 L1140.4 855.84 L1140.96 855.83 L1141.52 855.8 L1142.08 855.78 L1142.64 855.74 L1143.2 855.71 L1143.76 855.67 L1144.32 855.63 L1144.88 855.59 L1145.45 855.54 L1146.01 855.5 L1146.57 855.46 L1147.13 855.41 L1147.69 855.37 L1148.25 855.33 L1148.81 855.29 L1149.37 855.26 L1149.93 855.22 L1150.49 855.2 L1151.06 855.17 L1151.62 855.16 L1152.18 855.15 L1152.74 855.14 L1153.3 855.15 L1153.86 855.16 L1154.42 855.18 L1154.98 855.2 L1155.54 855.24 L1156.1 855.29 L1156.66 855.35 L1157.23 855.42 L1157.79 855.51 L1158.35 855.6 L1158.91 855.71 L1159.47 855.83 L1160.03 855.96 L1160.59 856.11 L1161.15 856.27 L1161.71 856.44 L1162.27 856.63 L1162.84 856.83 L1163.4 857.04 L1163.96 857.27 L1164.52 857.52 L1165.08 857.78 L1165.64 858.05 L1166.2 858.34 L1166.76 858.65 L1167.32 858.97 L1167.88 859.31 L1168.44 859.66 L1169.01 860.04 L1169.57 860.43 L1170.13 860.83 L1170.69 861.26 L1171.25 861.7 L1171.81 862.16 L1172.37 862.64 L1172.93 863.13 L1173.49 863.64 L1174.05 864.16 L1174.62 864.69 L1175.18 865.23 L1175.74 865.77 L1176.3 866.32 L1176.86 866.88 L1177.42 867.44 L1177.98 868 L1178.54 868.55 L1179.1 869.11 L1179.66 869.65 L1180.23 870.19 L1180.79 870.73 L1181.35 871.25 L1181.91 871.75 L1182.47 872.24 L1183.03 872.71 L1183.59 873.15 L1184.15 873.58 L1184.71 873.97 L1185.27 874.34 L1185.83 874.67 L1186.4 874.98 L1186.96 875.24 L1187.52 875.47 L1188.08 875.67 L1188.64 875.83 L1189.2 875.97 L1189.76 876.07 L1190.32 876.15 L1190.88 876.2 L1191.44 876.23 L1192.01 876.23 L1192.57 876.22 L1193.13 876.19 L1193.69 876.14 L1194.25 876.07 L1194.81 875.99 L1195.37 875.9 L1195.93 875.79 L1196.49 875.67 L1197.05 875.54 L1197.61 875.4 L1198.18 875.26 L1198.74 875.1 L1199.3 874.94 L1199.86 874.77 L1200.42 874.59 L1200.98 874.41 L1201.54 874.23 L1202.1 874.04 L1202.66 873.85 L1203.22 873.66 L1203.79 873.47 L1204.35 873.28 L1204.91 873.09 L1205.47 872.91 L1206.03 872.73 L1206.59 872.55 L1207.15 872.38 L1207.71 872.21 L1208.27 872.05 L1208.83 871.9 L1209.39 871.75 L1209.96 871.62 L1210.52 871.5 L1211.08 871.39 L1211.64 871.29 L1212.2 871.2 L1212.76 871.13 L1213.32 871.07 L1213.88 871.03 L1214.44 871 L1215 870.99 L1215.57 871.01 L1216.13 871.04 L1216.69 871.09 L1217.25 871.16 L1217.81 871.24 L1218.37 871.35 L1218.93 871.47 L1219.49 871.61 L1220.05 871.76 L1220.61 871.93 L1221.17 872.11 L1221.74 872.3 L1222.3 872.51 L1222.86 872.72 L1223.42 872.95 L1223.98 873.18 L1224.54 873.42 L1225.1 873.66 L1225.66 873.91 L1226.22 874.17 L1226.78 874.43 L1227.35 874.69 L1227.91 874.96 L1228.47 875.22 L1229.03 875.49 L1229.59 875.75 L1230.15 876.02 L1230.71 876.28 L1231.27 876.53 L1231.83 876.79 L1232.39 877.04 L1232.95 877.28 L1233.52 877.52 L1234.08 877.76 L1234.64 877.99 L1235.2 878.22 L1235.76 878.44 L1236.32 878.66 L1236.88 878.87 L1237.44 879.08 L1238 879.29 L1238.56 879.49 L1239.13 879.69 L1239.69 879.88 L1240.25 880.07 L1240.81 880.25 L1241.37 880.43 L1241.93 880.6 L1242.49 880.77 L1243.05 880.93 L1243.61 881.09 L1244.17 881.25 L1244.74 881.4 L1245.3 881.54 L1245.86 881.68 L1246.42 881.81 L1246.98 881.94 L1247.54 882.07 L1248.1 882.19 L1248.66 882.3 L1249.22 882.41 L1249.78 882.51 L1250.34 882.61 L1250.91 882.71 L1251.47 882.8 L1252.03 882.88 L1252.59 882.96 L1253.15 883.03 L1253.71 883.1 L1254.27 883.16 L1254.83 883.21 L1255.39 883.26 L1255.95 883.31 L1256.52 883.35 L1257.08 883.38 L1257.64 883.41 L1258.2 883.43 L1258.76 883.45 L1259.32 883.46 L1259.88 883.47 L1260.44 883.47 L1261 883.46 L1261.56 883.45 L1262.12 883.43 L1262.69 883.41 L1263.25 883.38 L1263.81 883.34 L1264.37 883.3 L1264.93 883.25 L1265.49 883.2 L1266.05 883.14 L1266.61 883.07 L1267.17 883 L1267.73 882.92 L1268.3 882.84 L1268.86 882.75 L1269.42 882.65 L1269.98 882.54 L1270.54 882.43 L1271.1 882.32" fill="none" stroke="#7d0a82" stroke-width="4" stroke-linejoin="round" stroke-linecap="round"></path>
</g>
<rect x="766.5" y="498" width="505" height="386.5" fill="none" stroke="#141414" stroke-width="2.7"></rect>
<path d="M766.5 884.5v10M766.5 498v10M867.5 884.5v10M867.5 498v10M968.5 884.5v10M968.5 498v10M1069.5 884.5v10M1069.5 498v10M1170.5 884.5v10M1170.5 498v10M1271.5 884.5v10M1271.5 498v10M817 884.5v5M817 498v5M918 884.5v5M918 498v5M1019 884.5v5M1019 498v5M1120 884.5v5M1120 498v5M1221 884.5v5M1221 498v5M766.5 884.5h-10M1271.5 884.5h-10M766.5 829.29h-10M1271.5 829.29h-10M766.5 774.07h-10M1271.5 774.07h-10M766.5 718.86h-10M1271.5 718.86h-10M766.5 663.64h-10M1271.5 663.64h-10M766.5 608.43h-10M1271.5 608.43h-10M766.5 553.22h-10M1271.5 553.22h-10M766.5 498h-10M1271.5 498h-10M766.5 856.89h-5M1271.5 856.89h-5M766.5 801.68h-5M1271.5 801.68h-5M766.5 746.47h-5M1271.5 746.47h-5M766.5 691.25h-5M1271.5 691.25h-5M766.5 636.04h-5M1271.5 636.04h-5M766.5 580.82h-5M1271.5 580.82h-5M766.5 525.61h-5M1271.5 525.61h-5" stroke="#141414" stroke-width="2.7" fill="none"></path>
<g transform="translate(766.5 923.5) scale(1 1.04)"><text font-size="29.3" text-anchor="middle">0</text></g>
<g transform="translate(867.5 923.5) scale(1 1.04)"><text font-size="29.3" text-anchor="middle">1</text><rect x="-7.30" width="6.39" y="-3.25" height="4.25" fill="#fff"></rect><rect x="1.73" width="5.95" y="-3.25" height="4.25" fill="#fff"></rect></g>
<g transform="translate(968.5 923.5) scale(1 1.04)"><text font-size="29.3" text-anchor="middle">2</text></g>
<g transform="translate(1069.5 923.5) scale(1 1.04)"><text font-size="29.3" text-anchor="middle">3</text></g>
<g transform="translate(1170.5 923.5) scale(1 1.04)"><text font-size="29.3" text-anchor="middle">4</text></g>
<g transform="translate(1271.5 923.5) scale(1 1.04)"><text font-size="29.3" text-anchor="middle">5</text></g>
<g transform="translate(754 892.5) scale(1 1.04)"><text font-size="29.3" text-anchor="end">0,0</text></g>
<g transform="translate(754 837.29) scale(1 1.04)"><text font-size="29.3" text-anchor="end">0,2</text></g>
<g transform="translate(754 782.07) scale(1 1.04)"><text font-size="29.3" text-anchor="end">0,4</text></g>
<g transform="translate(754 726.86) scale(1 1.04)"><text font-size="29.3" text-anchor="end">0,6</text></g>
<g transform="translate(754 671.64) scale(1 1.04)"><text font-size="29.3" text-anchor="end">0,8</text></g>
<g transform="translate(754 616.43) scale(1 1.04)"><text font-size="29.3" text-anchor="end">1,0</text><rect x="-39.86" width="6.39" y="-3.25" height="4.25" fill="#fff"></rect><rect x="-30.83" width="5.95" y="-3.25" height="4.25" fill="#fff"></rect></g>
<g transform="translate(754 561.22) scale(1 1.04)"><text font-size="29.3" text-anchor="end">1,2</text><rect x="-39.86" width="6.39" y="-3.25" height="4.25" fill="#fff"></rect><rect x="-30.83" width="5.95" y="-3.25" height="4.25" fill="#fff"></rect></g>
<g transform="translate(754 506) scale(1 1.04)"><text font-size="29.3" text-anchor="end">1,4</text><rect x="-39.86" width="6.39" y="-3.25" height="4.25" fill="#fff"></rect><rect x="-30.83" width="5.95" y="-3.25" height="4.25" fill="#fff"></rect></g>
<g fill="none" stroke="#9c44a6" stroke-width="2"><circle cx="343.1" cy="756.6" r="8.6"></circle></g>
<path d="M307.2 806.9H379.1" stroke="#7d0a82" stroke-width="3.4"></path>
<g transform="translate(388.2 767.7)"><text font-size="32" text-anchor="start">Fe<tspan font-size="18" dy="13.5">0.5</tspan><tspan dy="-13.5">-NH</tspan><tspan font-size="18" dy="13.5">3</tspan></text></g>
<g transform="translate(388.2 818)"><text font-size="32" text-anchor="start">Fe<tspan font-size="18" dy="13.5">0.5</tspan><tspan dy="-13.5">-Ar</tspan></text></g>
<g fill="none" stroke="#9c44a6" stroke-width="2"><circle cx="1053.7" cy="561.9" r="8.6"></circle></g>
<path d="M1018.1 612.2H1090" stroke="#7d0a82" stroke-width="3.4"></path>
<g transform="translate(1098.2 572.7)"><text font-size="32" text-anchor="start">Fe<tspan font-size="18" dy="13.5">0.5</tspan><tspan dy="-13.5">-NH</tspan><tspan font-size="18" dy="13.5">3</tspan></text></g>
<g transform="translate(1098.2 623)"><text font-size="32" text-anchor="start">Fe<tspan font-size="18" dy="13.5">0.5</tspan><tspan dy="-13.5">-Ar</tspan></text></g>
<g transform="translate(36.4 728.6) rotate(-90) scale(1 1.04)"><text font-size="35.8" text-anchor="middle">Normalized XANES signal</text></g>
<g transform="translate(382.6 977.6) scale(1 1.04)"><text font-size="35.5" text-anchor="middle">Energy (eV)</text></g>
<g transform="translate(694.9 881) rotate(-90) scale(1 1.04)"><text font-size="36" text-anchor="start">Fourier transform / A<tspan font-size="23" dy="-19">-3</tspan></text></g>
<g transform="translate(1019.5 966.7)"><text font-size="35.5" text-anchor="middle">R (Angstrom)</text></g>
</g>
</svg>
</body></html>
